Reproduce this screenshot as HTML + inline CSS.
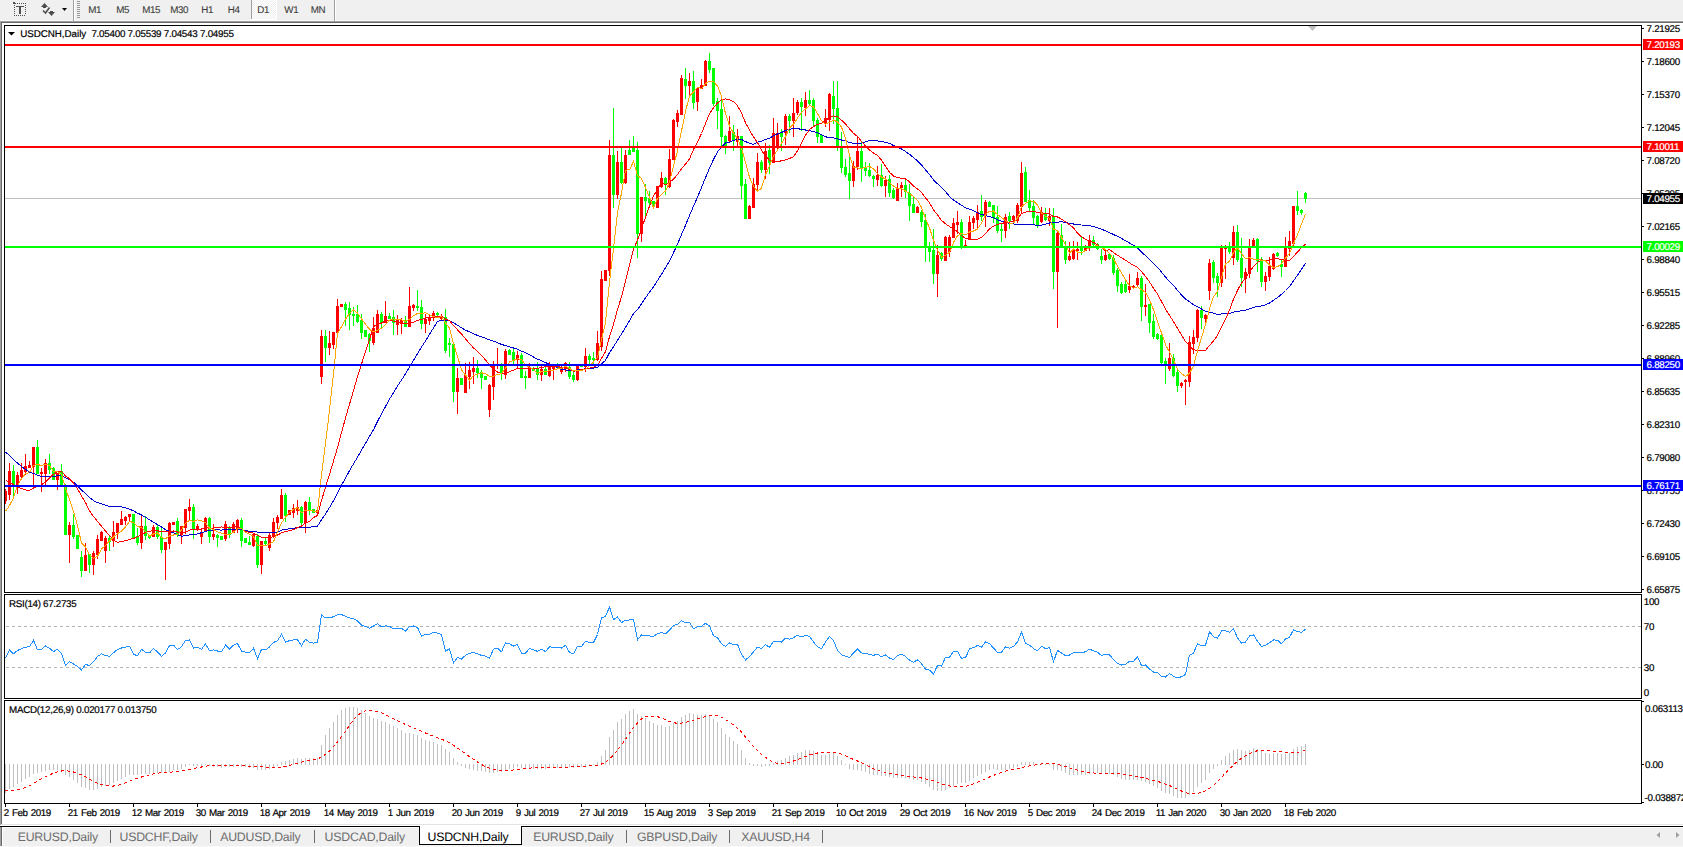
<!DOCTYPE html>
<html><head><meta charset="utf-8"><title>USDCNH,Daily</title>
<style>
html,body{margin:0;padding:0;background:#f0f0f0;}
body{width:1683px;height:847px;position:relative;overflow:hidden;font-family:"Liberation Sans",sans-serif;}
</style></head><body>
<svg width="1683" height="847" viewBox="0 0 1683 847" style="position:absolute;left:0;top:0" text-rendering="geometricPrecision" font-family="&quot;Liberation Sans&quot;, sans-serif">
<rect x="0" y="0" width="1683" height="847" fill="#f0f0f0"/>
<g shape-rendering="crispEdges">
<rect x="0" y="20" width="1683" height="1" fill="#f7f7f7"/>
<rect x="0" y="21" width="1683" height="1" fill="#a0a0a0"/>
<rect x="0" y="22" width="1683" height="1" fill="#696969"/>
<rect x="2" y="23" width="1681" height="801" fill="#ffffff"/>
<rect x="0" y="21" width="1" height="804" fill="#a0a0a0"/>
<rect x="1" y="22" width="1" height="802" fill="#696969"/>
<rect x="2" y="824" width="1681" height="1" fill="#e3e3e3"/>
<rect x="0" y="825" width="1683" height="1" fill="#ffffff"/>
<rect x="0" y="826" width="1683" height="1" fill="#000000"/>
<rect x="2" y="827" width="1681" height="1" fill="#ffffff"/>
<rect x="0" y="827" width="1" height="19" fill="#a0a0a0"/>
<rect x="1" y="827" width="1" height="19" fill="#696969"/>
<rect x="2" y="827" width="1" height="19" fill="#ffffff"/>
<rect x="0" y="846" width="1683" height="1" fill="#f8f8f8"/>
</g>
<g shape-rendering="crispEdges" fill="#505050">
<rect x="17" y="3" width="1" height="1"/>
<rect x="19" y="3" width="1" height="1"/>
<rect x="21" y="3" width="1" height="1"/>
<rect x="23" y="3" width="1" height="1"/>
<rect x="25" y="3" width="1" height="1"/>
<rect x="13" y="2" width="2" height="2"/><rect x="15" y="3" width="1" height="1"/>
<rect x="14" y="5" width="1" height="1"/>
<rect x="14" y="7" width="1" height="1"/>
<rect x="14" y="9" width="1" height="1"/>
<rect x="14" y="11" width="1" height="1"/>
<rect x="14" y="13" width="1" height="1"/>
<rect x="14" y="15" width="1" height="1"/>
<rect x="25" y="5" width="1" height="1"/>
<rect x="25" y="7" width="1" height="1"/>
<rect x="25" y="9" width="1" height="1"/>
<rect x="25" y="11" width="1" height="1"/>
<rect x="25" y="13" width="1" height="1"/>
<rect x="16" y="15" width="1" height="1"/>
<rect x="18" y="15" width="1" height="1"/>
<rect x="20" y="15" width="1" height="1"/>
<rect x="22" y="15" width="1" height="1"/>
<rect x="24" y="15" width="1" height="1"/>
<rect x="16" y="6" width="8" height="1"/><rect x="19" y="7" width="2" height="7"/>
</g>
<g fill="#4d4d4d">
<polygon points="44.5,3 41,7 48,7"/><rect x="43" y="7" width="3" height="1" shape-rendering="crispEdges"/>
<rect x="50" y="11" width="3" height="1" shape-rendering="crispEdges"/><polygon points="48,12 55,12 51.5,16"/>
</g>
<polyline points="43,10.5 45.5,13 49.5,7.5" fill="none" stroke="#4d4d4d" stroke-width="1.5"/>
<polygon points="62,8 67,8 64.5,11" fill="#000"/>
<g shape-rendering="crispEdges">
<rect x="73" y="0" width="1" height="21" fill="#a0a0a0"/><rect x="74" y="0" width="1" height="21" fill="#ffffff"/>
<rect x="77" y="1" width="3" height="1" fill="#9a9a9a"/>
<rect x="77" y="3" width="3" height="1" fill="#9a9a9a"/>
<rect x="77" y="5" width="3" height="1" fill="#9a9a9a"/>
<rect x="77" y="7" width="3" height="1" fill="#9a9a9a"/>
<rect x="77" y="9" width="3" height="1" fill="#9a9a9a"/>
<rect x="77" y="11" width="3" height="1" fill="#9a9a9a"/>
<rect x="77" y="13" width="3" height="1" fill="#9a9a9a"/>
<rect x="77" y="15" width="3" height="1" fill="#9a9a9a"/>
<rect x="77" y="17" width="3" height="1" fill="#9a9a9a"/>
<rect x="334" y="0" width="1" height="21" fill="#a0a0a0"/><rect x="335" y="0" width="1" height="21" fill="#ffffff"/>
<rect x="251" y="0" width="1" height="19" fill="#a0a0a0"/><rect x="252" y="0" width="24" height="19" fill="url(#chk)"/>
<rect x="251" y="19" width="26" height="1" fill="#ffffff"/><rect x="276" y="0" width="1" height="20" fill="#ffffff"/>
</g>
<text x="88.3" y="13" font-size="9.8" fill="#3c3c3c" stroke="#3c3c3c" stroke-width="0.1" letter-spacing="-0.4" >M1</text>
<text x="116.3" y="13" font-size="9.8" fill="#3c3c3c" stroke="#3c3c3c" stroke-width="0.1" letter-spacing="-0.4" >M5</text>
<text x="142.3" y="13" font-size="9.8" fill="#3c3c3c" stroke="#3c3c3c" stroke-width="0.1" letter-spacing="-0.4" >M15</text>
<text x="170.3" y="13" font-size="9.8" fill="#3c3c3c" stroke="#3c3c3c" stroke-width="0.1" letter-spacing="-0.4" >M30</text>
<text x="201.3" y="13" font-size="9.8" fill="#3c3c3c" stroke="#3c3c3c" stroke-width="0.1" letter-spacing="-0.4" >H1</text>
<text x="227.8" y="13" font-size="9.8" fill="#3c3c3c" stroke="#3c3c3c" stroke-width="0.1" letter-spacing="-0.4" >H4</text>
<text x="257.3" y="13" font-size="9.8" fill="#3c3c3c" stroke="#3c3c3c" stroke-width="0.1" letter-spacing="-0.4" >D1</text>
<text x="284.3" y="13" font-size="9.8" fill="#3c3c3c" stroke="#3c3c3c" stroke-width="0.1" letter-spacing="-0.4" >W1</text>
<text x="310.8" y="13" font-size="9.8" fill="#3c3c3c" stroke="#3c3c3c" stroke-width="0.1" letter-spacing="-0.4" >MN</text>
<g shape-rendering="crispEdges" fill="#000">
<rect x="4" y="25" width="1638" height="1"/>
<rect x="4" y="592" width="1638" height="1"/>
<rect x="4" y="25" width="1" height="568"/>
<rect x="1641" y="25" width="1" height="568"/>
<rect x="4" y="594" width="1638" height="1"/>
<rect x="4" y="698" width="1638" height="1"/>
<rect x="4" y="594" width="1" height="105"/>
<rect x="1641" y="594" width="1" height="105"/>
<rect x="4" y="700" width="1638" height="1"/>
<rect x="4" y="803" width="1638" height="1"/>
<rect x="4" y="700" width="1" height="104"/>
<rect x="1641" y="700" width="1" height="104"/>
<rect x="1642" y="28" width="2" height="1"/>
<rect x="1642" y="61" width="2" height="1"/>
<rect x="1642" y="94" width="2" height="1"/>
<rect x="1642" y="127" width="2" height="1"/>
<rect x="1642" y="160" width="2" height="1"/>
<rect x="1642" y="193" width="2" height="1"/>
<rect x="1642" y="226" width="2" height="1"/>
<rect x="1642" y="259" width="2" height="1"/>
<rect x="1642" y="292" width="2" height="1"/>
<rect x="1642" y="325" width="2" height="1"/>
<rect x="1642" y="358" width="2" height="1"/>
<rect x="1642" y="391" width="2" height="1"/>
<rect x="1642" y="424" width="2" height="1"/>
<rect x="1642" y="457" width="2" height="1"/>
<rect x="1642" y="490" width="2" height="1"/>
<rect x="1642" y="523" width="2" height="1"/>
<rect x="1642" y="556" width="2" height="1"/>
<rect x="1642" y="589" width="2" height="1"/>
<rect x="5" y="804" width="1" height="3"/>
<rect x="69" y="804" width="1" height="3"/>
<rect x="133" y="804" width="1" height="3"/>
<rect x="197" y="804" width="1" height="3"/>
<rect x="261" y="804" width="1" height="3"/>
<rect x="325" y="804" width="1" height="3"/>
<rect x="389" y="804" width="1" height="3"/>
<rect x="453" y="804" width="1" height="3"/>
<rect x="517" y="804" width="1" height="3"/>
<rect x="581" y="804" width="1" height="3"/>
<rect x="645" y="804" width="1" height="3"/>
<rect x="709" y="804" width="1" height="3"/>
<rect x="773" y="804" width="1" height="3"/>
<rect x="837" y="804" width="1" height="3"/>
<rect x="901" y="804" width="1" height="3"/>
<rect x="965" y="804" width="1" height="3"/>
<rect x="1029" y="804" width="1" height="3"/>
<rect x="1093" y="804" width="1" height="3"/>
<rect x="1157" y="804" width="1" height="3"/>
<rect x="1221" y="804" width="1" height="3"/>
<rect x="1285" y="804" width="1" height="3"/>
<rect x="1642" y="701" width="2" height="1"/>
<rect x="1642" y="764" width="2" height="1"/>
<rect x="1642" y="802" width="2" height="1"/>
</g>
<polygon points="1308,26 1317,26 1312.5,31" fill="#c0c0c0"/>
<text x="1646.6" y="32" font-size="9.8" fill="#000" stroke="#000" stroke-width="0.2" letter-spacing="-0.3" >7.21925</text>
<text x="1646.6" y="65" font-size="9.8" fill="#000" stroke="#000" stroke-width="0.2" letter-spacing="-0.3" >7.18600</text>
<text x="1646.6" y="98" font-size="9.8" fill="#000" stroke="#000" stroke-width="0.2" letter-spacing="-0.3" >7.15370</text>
<text x="1646.6" y="131" font-size="9.8" fill="#000" stroke="#000" stroke-width="0.2" letter-spacing="-0.3" >7.12045</text>
<text x="1646.6" y="164" font-size="9.8" fill="#000" stroke="#000" stroke-width="0.2" letter-spacing="-0.3" >7.08720</text>
<text x="1646.6" y="197" font-size="9.8" fill="#000" stroke="#000" stroke-width="0.2" letter-spacing="-0.3" >7.05395</text>
<text x="1646.6" y="230" font-size="9.8" fill="#000" stroke="#000" stroke-width="0.2" letter-spacing="-0.3" >7.02165</text>
<text x="1646.6" y="263" font-size="9.8" fill="#000" stroke="#000" stroke-width="0.2" letter-spacing="-0.3" >6.98840</text>
<text x="1646.6" y="296" font-size="9.8" fill="#000" stroke="#000" stroke-width="0.2" letter-spacing="-0.3" >6.95515</text>
<text x="1646.6" y="329" font-size="9.8" fill="#000" stroke="#000" stroke-width="0.2" letter-spacing="-0.3" >6.92285</text>
<text x="1646.6" y="362" font-size="9.8" fill="#000" stroke="#000" stroke-width="0.2" letter-spacing="-0.3" >6.88960</text>
<text x="1646.6" y="395" font-size="9.8" fill="#000" stroke="#000" stroke-width="0.2" letter-spacing="-0.3" >6.85635</text>
<text x="1646.6" y="428" font-size="9.8" fill="#000" stroke="#000" stroke-width="0.2" letter-spacing="-0.3" >6.82310</text>
<text x="1646.6" y="461" font-size="9.8" fill="#000" stroke="#000" stroke-width="0.2" letter-spacing="-0.3" >6.79080</text>
<text x="1646.6" y="494" font-size="9.8" fill="#000" stroke="#000" stroke-width="0.2" letter-spacing="-0.3" >6.75755</text>
<text x="1646.6" y="527" font-size="9.8" fill="#000" stroke="#000" stroke-width="0.2" letter-spacing="-0.3" >6.72430</text>
<text x="1646.6" y="560" font-size="9.8" fill="#000" stroke="#000" stroke-width="0.2" letter-spacing="-0.3" >6.69105</text>
<text x="1646.6" y="593" font-size="9.8" fill="#000" stroke="#000" stroke-width="0.2" letter-spacing="-0.3" >6.65875</text>
<rect x="5" y="198" width="1636" height="1" fill="#c0c0c0" shape-rendering="crispEdges"/>
<g shape-rendering="crispEdges">
<rect x="5" y="489" width="1" height="15" fill="#ff0000"/>
<rect x="5" y="491" width="2" height="10" fill="#ff0000"/>
<rect x="9" y="463" width="1" height="37" fill="#ff0000"/>
<rect x="8" y="471" width="3" height="24" fill="#ff0000"/>
<rect x="13" y="465" width="1" height="32" fill="#00ff00"/>
<rect x="12" y="471" width="3" height="14" fill="#00ff00"/>
<rect x="17" y="472" width="1" height="22" fill="#ff0000"/>
<rect x="16" y="475" width="3" height="11" fill="#ff0000"/>
<rect x="21" y="463" width="1" height="17" fill="#ff0000"/>
<rect x="20" y="470" width="3" height="7" fill="#ff0000"/>
<rect x="25" y="454" width="1" height="21" fill="#ff0000"/>
<rect x="24" y="466" width="3" height="6" fill="#ff0000"/>
<rect x="29" y="461" width="1" height="7" fill="#ff0000"/>
<rect x="28" y="465" width="3" height="3" fill="#ff0000"/>
<rect x="33" y="447" width="1" height="38" fill="#ff0000"/>
<rect x="32" y="447" width="3" height="20" fill="#ff0000"/>
<rect x="37" y="440" width="1" height="34" fill="#00ff00"/>
<rect x="36" y="447" width="3" height="27" fill="#00ff00"/>
<rect x="41" y="468" width="1" height="24" fill="#ff0000"/>
<rect x="40" y="472" width="3" height="2" fill="#ff0000"/>
<rect x="45" y="459" width="1" height="27" fill="#ff0000"/>
<rect x="44" y="463" width="3" height="11" fill="#ff0000"/>
<rect x="49" y="454" width="1" height="20" fill="#00ff00"/>
<rect x="48" y="463" width="3" height="7" fill="#00ff00"/>
<rect x="53" y="467" width="1" height="13" fill="#00ff00"/>
<rect x="52" y="468" width="3" height="12" fill="#00ff00"/>
<rect x="57" y="473" width="1" height="17" fill="#ff0000"/>
<rect x="56" y="473" width="3" height="7" fill="#ff0000"/>
<rect x="61" y="464" width="1" height="23" fill="#00ff00"/>
<rect x="60" y="471" width="3" height="15" fill="#00ff00"/>
<rect x="65" y="484" width="1" height="51" fill="#00ff00"/>
<rect x="64" y="485" width="3" height="50" fill="#00ff00"/>
<rect x="69" y="522" width="1" height="41" fill="#ff0000"/>
<rect x="68" y="525" width="3" height="10" fill="#ff0000"/>
<rect x="73" y="514" width="1" height="25" fill="#00ff00"/>
<rect x="72" y="525" width="3" height="12" fill="#00ff00"/>
<rect x="77" y="535" width="1" height="14" fill="#00ff00"/>
<rect x="76" y="535" width="3" height="14" fill="#00ff00"/>
<rect x="81" y="551" width="1" height="26" fill="#00ff00"/>
<rect x="80" y="557" width="3" height="14" fill="#00ff00"/>
<rect x="85" y="543" width="1" height="28" fill="#ff0000"/>
<rect x="84" y="555" width="3" height="16" fill="#ff0000"/>
<rect x="89" y="554" width="1" height="19" fill="#00ff00"/>
<rect x="88" y="554" width="3" height="11" fill="#00ff00"/>
<rect x="93" y="551" width="1" height="24" fill="#ff0000"/>
<rect x="92" y="553" width="3" height="12" fill="#ff0000"/>
<rect x="97" y="535" width="1" height="24" fill="#ff0000"/>
<rect x="96" y="539" width="3" height="16" fill="#ff0000"/>
<rect x="101" y="531" width="1" height="10" fill="#ff0000"/>
<rect x="100" y="532" width="3" height="9" fill="#ff0000"/>
<rect x="105" y="536" width="1" height="27" fill="#ff0000"/>
<rect x="104" y="538" width="3" height="13" fill="#ff0000"/>
<rect x="109" y="536" width="1" height="15" fill="#00ff00"/>
<rect x="108" y="538" width="3" height="4" fill="#00ff00"/>
<rect x="113" y="521" width="1" height="26" fill="#ff0000"/>
<rect x="112" y="532" width="3" height="9" fill="#ff0000"/>
<rect x="117" y="523" width="1" height="16" fill="#ff0000"/>
<rect x="116" y="523" width="3" height="10" fill="#ff0000"/>
<rect x="121" y="511" width="1" height="14" fill="#ff0000"/>
<rect x="120" y="519" width="3" height="6" fill="#ff0000"/>
<rect x="125" y="516" width="1" height="9" fill="#ff0000"/>
<rect x="124" y="517" width="3" height="4" fill="#ff0000"/>
<rect x="129" y="514" width="1" height="8" fill="#ff0000"/>
<rect x="128" y="514" width="3" height="3" fill="#ff0000"/>
<rect x="133" y="514" width="1" height="24" fill="#00ff00"/>
<rect x="132" y="514" width="3" height="24" fill="#00ff00"/>
<rect x="137" y="528" width="1" height="17" fill="#00ff00"/>
<rect x="136" y="536" width="3" height="7" fill="#00ff00"/>
<rect x="141" y="515" width="1" height="34" fill="#ff0000"/>
<rect x="140" y="526" width="3" height="17" fill="#ff0000"/>
<rect x="145" y="516" width="1" height="24" fill="#00ff00"/>
<rect x="144" y="526" width="3" height="10" fill="#00ff00"/>
<rect x="149" y="535" width="1" height="4" fill="#00ff00"/>
<rect x="148" y="535" width="3" height="3" fill="#00ff00"/>
<rect x="153" y="525" width="1" height="12" fill="#ff0000"/>
<rect x="152" y="527" width="3" height="10" fill="#ff0000"/>
<rect x="157" y="525" width="1" height="14" fill="#00ff00"/>
<rect x="156" y="527" width="3" height="10" fill="#00ff00"/>
<rect x="161" y="527" width="1" height="26" fill="#00ff00"/>
<rect x="160" y="537" width="3" height="13" fill="#00ff00"/>
<rect x="165" y="542" width="1" height="38" fill="#ff0000"/>
<rect x="164" y="542" width="3" height="8" fill="#ff0000"/>
<rect x="169" y="522" width="1" height="27" fill="#ff0000"/>
<rect x="168" y="523" width="3" height="21" fill="#ff0000"/>
<rect x="173" y="522" width="1" height="3" fill="#ff0000"/>
<rect x="172" y="522" width="3" height="3" fill="#ff0000"/>
<rect x="177" y="518" width="1" height="19" fill="#00ff00"/>
<rect x="176" y="521" width="3" height="14" fill="#00ff00"/>
<rect x="181" y="526" width="1" height="18" fill="#ff0000"/>
<rect x="180" y="526" width="3" height="9" fill="#ff0000"/>
<rect x="185" y="509" width="1" height="25" fill="#ff0000"/>
<rect x="184" y="509" width="3" height="19" fill="#ff0000"/>
<rect x="189" y="499" width="1" height="21" fill="#ff0000"/>
<rect x="188" y="507" width="3" height="4" fill="#ff0000"/>
<rect x="193" y="504" width="1" height="35" fill="#00ff00"/>
<rect x="192" y="507" width="3" height="22" fill="#00ff00"/>
<rect x="197" y="524" width="1" height="7" fill="#ff0000"/>
<rect x="196" y="526" width="3" height="4" fill="#ff0000"/>
<rect x="201" y="528" width="1" height="16" fill="#ff0000"/>
<rect x="200" y="532" width="3" height="5" fill="#ff0000"/>
<rect x="205" y="517" width="1" height="15" fill="#ff0000"/>
<rect x="204" y="518" width="3" height="13" fill="#ff0000"/>
<rect x="209" y="517" width="1" height="26" fill="#00ff00"/>
<rect x="208" y="518" width="3" height="19" fill="#00ff00"/>
<rect x="213" y="524" width="1" height="16" fill="#ff0000"/>
<rect x="212" y="534" width="3" height="3" fill="#ff0000"/>
<rect x="217" y="534" width="1" height="13" fill="#00ff00"/>
<rect x="216" y="535" width="3" height="3" fill="#00ff00"/>
<rect x="221" y="536" width="1" height="4" fill="#00ff00"/>
<rect x="220" y="536" width="3" height="4" fill="#00ff00"/>
<rect x="225" y="521" width="1" height="20" fill="#ff0000"/>
<rect x="224" y="524" width="3" height="15" fill="#ff0000"/>
<rect x="229" y="526" width="1" height="12" fill="#00ff00"/>
<rect x="228" y="528" width="3" height="7" fill="#00ff00"/>
<rect x="233" y="522" width="1" height="11" fill="#ff0000"/>
<rect x="232" y="524" width="3" height="9" fill="#ff0000"/>
<rect x="237" y="519" width="1" height="14" fill="#ff0000"/>
<rect x="236" y="520" width="3" height="10" fill="#ff0000"/>
<rect x="241" y="518" width="1" height="29" fill="#00ff00"/>
<rect x="240" y="520" width="3" height="21" fill="#00ff00"/>
<rect x="245" y="538" width="1" height="5" fill="#00ff00"/>
<rect x="244" y="538" width="3" height="5" fill="#00ff00"/>
<rect x="249" y="536" width="1" height="9" fill="#00ff00"/>
<rect x="248" y="542" width="3" height="3" fill="#00ff00"/>
<rect x="253" y="533" width="1" height="14" fill="#ff0000"/>
<rect x="252" y="534" width="3" height="12" fill="#ff0000"/>
<rect x="257" y="534" width="1" height="34" fill="#00ff00"/>
<rect x="256" y="536" width="3" height="29" fill="#00ff00"/>
<rect x="261" y="541" width="1" height="33" fill="#ff0000"/>
<rect x="260" y="541" width="3" height="24" fill="#ff0000"/>
<rect x="265" y="538" width="1" height="7" fill="#00ff00"/>
<rect x="264" y="541" width="3" height="3" fill="#00ff00"/>
<rect x="269" y="532" width="1" height="19" fill="#ff0000"/>
<rect x="268" y="535" width="3" height="13" fill="#ff0000"/>
<rect x="273" y="518" width="1" height="20" fill="#ff0000"/>
<rect x="272" y="522" width="3" height="15" fill="#ff0000"/>
<rect x="277" y="515" width="1" height="14" fill="#ff0000"/>
<rect x="276" y="517" width="3" height="6" fill="#ff0000"/>
<rect x="281" y="489" width="1" height="30" fill="#ff0000"/>
<rect x="280" y="495" width="3" height="24" fill="#ff0000"/>
<rect x="285" y="493" width="1" height="29" fill="#00ff00"/>
<rect x="284" y="495" width="3" height="21" fill="#00ff00"/>
<rect x="289" y="510" width="1" height="5" fill="#ff0000"/>
<rect x="288" y="510" width="3" height="5" fill="#ff0000"/>
<rect x="293" y="504" width="1" height="14" fill="#ff0000"/>
<rect x="292" y="508" width="3" height="5" fill="#ff0000"/>
<rect x="297" y="500" width="1" height="15" fill="#ff0000"/>
<rect x="296" y="507" width="3" height="4" fill="#ff0000"/>
<rect x="301" y="506" width="1" height="20" fill="#00ff00"/>
<rect x="300" y="507" width="3" height="16" fill="#00ff00"/>
<rect x="305" y="501" width="1" height="32" fill="#ff0000"/>
<rect x="304" y="502" width="3" height="21" fill="#ff0000"/>
<rect x="309" y="497" width="1" height="18" fill="#00ff00"/>
<rect x="308" y="502" width="3" height="9" fill="#00ff00"/>
<rect x="313" y="509" width="1" height="4" fill="#00ff00"/>
<rect x="312" y="509" width="3" height="4" fill="#00ff00"/>
<rect x="317" y="510" width="1" height="3" fill="#ff0000"/>
<rect x="316" y="510" width="3" height="3" fill="#ff0000"/>
<rect x="321" y="330" width="1" height="54" fill="#ff0000"/>
<rect x="320" y="336" width="3" height="41" fill="#ff0000"/>
<rect x="325" y="330" width="1" height="32" fill="#00ff00"/>
<rect x="324" y="336" width="3" height="12" fill="#00ff00"/>
<rect x="329" y="331" width="1" height="24" fill="#ff0000"/>
<rect x="328" y="343" width="3" height="5" fill="#ff0000"/>
<rect x="333" y="332" width="1" height="17" fill="#ff0000"/>
<rect x="332" y="332" width="3" height="13" fill="#ff0000"/>
<rect x="337" y="299" width="1" height="34" fill="#ff0000"/>
<rect x="336" y="306" width="3" height="27" fill="#ff0000"/>
<rect x="341" y="304" width="1" height="3" fill="#ff0000"/>
<rect x="340" y="304" width="3" height="3" fill="#ff0000"/>
<rect x="345" y="302" width="1" height="24" fill="#00ff00"/>
<rect x="344" y="304" width="3" height="6" fill="#00ff00"/>
<rect x="349" y="302" width="1" height="28" fill="#00ff00"/>
<rect x="348" y="308" width="3" height="7" fill="#00ff00"/>
<rect x="353" y="307" width="1" height="19" fill="#00ff00"/>
<rect x="352" y="314" width="3" height="2" fill="#00ff00"/>
<rect x="357" y="305" width="1" height="18" fill="#00ff00"/>
<rect x="356" y="314" width="3" height="8" fill="#00ff00"/>
<rect x="361" y="314" width="1" height="25" fill="#00ff00"/>
<rect x="360" y="320" width="3" height="13" fill="#00ff00"/>
<rect x="365" y="330" width="1" height="7" fill="#00ff00"/>
<rect x="364" y="330" width="3" height="7" fill="#00ff00"/>
<rect x="369" y="333" width="1" height="19" fill="#00ff00"/>
<rect x="368" y="334" width="3" height="7" fill="#00ff00"/>
<rect x="373" y="317" width="1" height="28" fill="#ff0000"/>
<rect x="372" y="328" width="3" height="15" fill="#ff0000"/>
<rect x="377" y="310" width="1" height="23" fill="#ff0000"/>
<rect x="376" y="314" width="3" height="19" fill="#ff0000"/>
<rect x="381" y="312" width="1" height="17" fill="#00ff00"/>
<rect x="380" y="314" width="3" height="9" fill="#00ff00"/>
<rect x="385" y="301" width="1" height="22" fill="#ff0000"/>
<rect x="384" y="316" width="3" height="7" fill="#ff0000"/>
<rect x="389" y="313" width="1" height="6" fill="#00ff00"/>
<rect x="388" y="316" width="3" height="3" fill="#00ff00"/>
<rect x="393" y="310" width="1" height="25" fill="#00ff00"/>
<rect x="392" y="317" width="3" height="6" fill="#00ff00"/>
<rect x="397" y="315" width="1" height="20" fill="#ff0000"/>
<rect x="396" y="320" width="3" height="5" fill="#ff0000"/>
<rect x="401" y="318" width="1" height="16" fill="#ff0000"/>
<rect x="400" y="320" width="3" height="4" fill="#ff0000"/>
<rect x="405" y="316" width="1" height="11" fill="#00ff00"/>
<rect x="404" y="320" width="3" height="7" fill="#00ff00"/>
<rect x="409" y="287" width="1" height="40" fill="#ff0000"/>
<rect x="408" y="306" width="3" height="21" fill="#ff0000"/>
<rect x="413" y="304" width="1" height="7" fill="#ff0000"/>
<rect x="412" y="305" width="3" height="3" fill="#ff0000"/>
<rect x="417" y="290" width="1" height="21" fill="#00ff00"/>
<rect x="416" y="306" width="3" height="2" fill="#00ff00"/>
<rect x="421" y="300" width="1" height="29" fill="#00ff00"/>
<rect x="420" y="307" width="3" height="17" fill="#00ff00"/>
<rect x="425" y="314" width="1" height="19" fill="#ff0000"/>
<rect x="424" y="319" width="3" height="5" fill="#ff0000"/>
<rect x="429" y="315" width="1" height="10" fill="#ff0000"/>
<rect x="428" y="318" width="3" height="3" fill="#ff0000"/>
<rect x="433" y="311" width="1" height="10" fill="#ff0000"/>
<rect x="432" y="313" width="3" height="4" fill="#ff0000"/>
<rect x="437" y="312" width="1" height="4" fill="#00ff00"/>
<rect x="436" y="313" width="3" height="2" fill="#00ff00"/>
<rect x="441" y="314" width="1" height="6" fill="#ff0000"/>
<rect x="440" y="316" width="3" height="3" fill="#ff0000"/>
<rect x="445" y="309" width="1" height="44" fill="#00ff00"/>
<rect x="444" y="317" width="3" height="34" fill="#00ff00"/>
<rect x="449" y="338" width="1" height="19" fill="#00ff00"/>
<rect x="448" y="343" width="3" height="2" fill="#00ff00"/>
<rect x="453" y="343" width="1" height="59" fill="#00ff00"/>
<rect x="452" y="344" width="3" height="48" fill="#00ff00"/>
<rect x="457" y="368" width="1" height="46" fill="#ff0000"/>
<rect x="456" y="378" width="3" height="14" fill="#ff0000"/>
<rect x="461" y="378" width="1" height="7" fill="#00ff00"/>
<rect x="460" y="378" width="3" height="7" fill="#00ff00"/>
<rect x="465" y="363" width="1" height="30" fill="#ff0000"/>
<rect x="464" y="375" width="3" height="18" fill="#ff0000"/>
<rect x="469" y="362" width="1" height="27" fill="#ff0000"/>
<rect x="468" y="370" width="3" height="7" fill="#ff0000"/>
<rect x="473" y="357" width="1" height="27" fill="#ff0000"/>
<rect x="472" y="368" width="3" height="4" fill="#ff0000"/>
<rect x="477" y="360" width="1" height="18" fill="#00ff00"/>
<rect x="476" y="368" width="3" height="5" fill="#00ff00"/>
<rect x="481" y="370" width="1" height="19" fill="#00ff00"/>
<rect x="480" y="372" width="3" height="6" fill="#00ff00"/>
<rect x="485" y="376" width="1" height="4" fill="#00ff00"/>
<rect x="484" y="376" width="3" height="4" fill="#00ff00"/>
<rect x="489" y="384" width="1" height="33" fill="#ff0000"/>
<rect x="488" y="385" width="3" height="25" fill="#ff0000"/>
<rect x="493" y="361" width="1" height="39" fill="#ff0000"/>
<rect x="492" y="366" width="3" height="21" fill="#ff0000"/>
<rect x="497" y="348" width="1" height="21" fill="#ff0000"/>
<rect x="496" y="364" width="3" height="2" fill="#ff0000"/>
<rect x="501" y="363" width="1" height="17" fill="#00ff00"/>
<rect x="500" y="364" width="3" height="10" fill="#00ff00"/>
<rect x="505" y="349" width="1" height="30" fill="#ff0000"/>
<rect x="504" y="351" width="3" height="24" fill="#ff0000"/>
<rect x="509" y="349" width="1" height="6" fill="#00ff00"/>
<rect x="508" y="350" width="3" height="5" fill="#00ff00"/>
<rect x="513" y="349" width="1" height="16" fill="#00ff00"/>
<rect x="512" y="352" width="3" height="8" fill="#00ff00"/>
<rect x="517" y="351" width="1" height="17" fill="#ff0000"/>
<rect x="516" y="355" width="3" height="5" fill="#ff0000"/>
<rect x="521" y="353" width="1" height="25" fill="#00ff00"/>
<rect x="520" y="355" width="3" height="23" fill="#00ff00"/>
<rect x="525" y="371" width="1" height="18" fill="#00ff00"/>
<rect x="524" y="376" width="3" height="2" fill="#00ff00"/>
<rect x="529" y="363" width="1" height="15" fill="#ff0000"/>
<rect x="528" y="367" width="3" height="11" fill="#ff0000"/>
<rect x="533" y="367" width="1" height="4" fill="#00ff00"/>
<rect x="532" y="368" width="3" height="3" fill="#00ff00"/>
<rect x="537" y="362" width="1" height="18" fill="#00ff00"/>
<rect x="536" y="368" width="3" height="7" fill="#00ff00"/>
<rect x="541" y="366" width="1" height="15" fill="#ff0000"/>
<rect x="540" y="369" width="3" height="6" fill="#ff0000"/>
<rect x="545" y="367" width="1" height="8" fill="#00ff00"/>
<rect x="544" y="369" width="3" height="6" fill="#00ff00"/>
<rect x="549" y="362" width="1" height="15" fill="#ff0000"/>
<rect x="548" y="365" width="3" height="11" fill="#ff0000"/>
<rect x="553" y="366" width="1" height="14" fill="#ff0000"/>
<rect x="552" y="366" width="3" height="3" fill="#ff0000"/>
<rect x="557" y="363" width="1" height="6" fill="#00ff00"/>
<rect x="556" y="365" width="3" height="3" fill="#00ff00"/>
<rect x="561" y="366" width="1" height="8" fill="#ff0000"/>
<rect x="560" y="368" width="3" height="4" fill="#ff0000"/>
<rect x="565" y="362" width="1" height="10" fill="#ff0000"/>
<rect x="564" y="363" width="3" height="6" fill="#ff0000"/>
<rect x="569" y="362" width="1" height="17" fill="#00ff00"/>
<rect x="568" y="367" width="3" height="10" fill="#00ff00"/>
<rect x="573" y="371" width="1" height="11" fill="#00ff00"/>
<rect x="572" y="375" width="3" height="5" fill="#00ff00"/>
<rect x="577" y="366" width="1" height="15" fill="#ff0000"/>
<rect x="576" y="366" width="3" height="14" fill="#ff0000"/>
<rect x="581" y="365" width="1" height="2" fill="#00ff00"/>
<rect x="580" y="365" width="3" height="2" fill="#00ff00"/>
<rect x="585" y="348" width="1" height="24" fill="#ff0000"/>
<rect x="584" y="356" width="3" height="11" fill="#ff0000"/>
<rect x="589" y="354" width="1" height="11" fill="#00ff00"/>
<rect x="588" y="356" width="3" height="4" fill="#00ff00"/>
<rect x="593" y="352" width="1" height="13" fill="#00ff00"/>
<rect x="592" y="358" width="3" height="2" fill="#00ff00"/>
<rect x="597" y="331" width="1" height="30" fill="#ff0000"/>
<rect x="596" y="343" width="3" height="17" fill="#ff0000"/>
<rect x="601" y="271" width="1" height="80" fill="#ff0000"/>
<rect x="600" y="279" width="3" height="68" fill="#ff0000"/>
<rect x="605" y="270" width="1" height="11" fill="#ff0000"/>
<rect x="604" y="270" width="3" height="11" fill="#ff0000"/>
<rect x="609" y="140" width="1" height="136" fill="#ff0000"/>
<rect x="608" y="155" width="3" height="116" fill="#ff0000"/>
<rect x="613" y="108" width="1" height="100" fill="#00ff00"/>
<rect x="612" y="155" width="3" height="40" fill="#00ff00"/>
<rect x="617" y="151" width="1" height="48" fill="#ff0000"/>
<rect x="616" y="162" width="3" height="33" fill="#ff0000"/>
<rect x="621" y="148" width="1" height="36" fill="#00ff00"/>
<rect x="620" y="162" width="3" height="21" fill="#00ff00"/>
<rect x="625" y="150" width="1" height="34" fill="#ff0000"/>
<rect x="624" y="155" width="3" height="28" fill="#ff0000"/>
<rect x="629" y="140" width="1" height="15" fill="#00ff00"/>
<rect x="628" y="150" width="3" height="5" fill="#00ff00"/>
<rect x="633" y="136" width="1" height="16" fill="#00ff00"/>
<rect x="632" y="148" width="3" height="4" fill="#00ff00"/>
<rect x="637" y="142" width="1" height="116" fill="#00ff00"/>
<rect x="636" y="150" width="3" height="84" fill="#00ff00"/>
<rect x="641" y="197" width="1" height="45" fill="#ff0000"/>
<rect x="640" y="197" width="3" height="37" fill="#ff0000"/>
<rect x="645" y="184" width="1" height="32" fill="#00ff00"/>
<rect x="644" y="197" width="3" height="4" fill="#00ff00"/>
<rect x="649" y="191" width="1" height="14" fill="#00ff00"/>
<rect x="648" y="198" width="3" height="5" fill="#00ff00"/>
<rect x="653" y="201" width="1" height="5" fill="#00ff00"/>
<rect x="652" y="201" width="3" height="4" fill="#00ff00"/>
<rect x="657" y="186" width="1" height="22" fill="#ff0000"/>
<rect x="656" y="186" width="3" height="22" fill="#ff0000"/>
<rect x="661" y="172" width="1" height="16" fill="#ff0000"/>
<rect x="660" y="178" width="3" height="9" fill="#ff0000"/>
<rect x="665" y="177" width="1" height="18" fill="#00ff00"/>
<rect x="664" y="178" width="3" height="6" fill="#00ff00"/>
<rect x="669" y="149" width="1" height="39" fill="#ff0000"/>
<rect x="668" y="159" width="3" height="28" fill="#ff0000"/>
<rect x="673" y="119" width="1" height="41" fill="#ff0000"/>
<rect x="672" y="120" width="3" height="40" fill="#ff0000"/>
<rect x="677" y="110" width="1" height="17" fill="#ff0000"/>
<rect x="676" y="113" width="3" height="9" fill="#ff0000"/>
<rect x="681" y="75" width="1" height="40" fill="#ff0000"/>
<rect x="680" y="78" width="3" height="37" fill="#ff0000"/>
<rect x="685" y="68" width="1" height="31" fill="#00ff00"/>
<rect x="684" y="79" width="3" height="7" fill="#00ff00"/>
<rect x="689" y="73" width="1" height="22" fill="#ff0000"/>
<rect x="688" y="81" width="3" height="5" fill="#ff0000"/>
<rect x="693" y="71" width="1" height="38" fill="#00ff00"/>
<rect x="692" y="81" width="3" height="22" fill="#00ff00"/>
<rect x="697" y="87" width="1" height="24" fill="#ff0000"/>
<rect x="696" y="88" width="3" height="14" fill="#ff0000"/>
<rect x="701" y="79" width="1" height="10" fill="#ff0000"/>
<rect x="700" y="85" width="3" height="4" fill="#ff0000"/>
<rect x="705" y="60" width="1" height="26" fill="#ff0000"/>
<rect x="704" y="61" width="3" height="25" fill="#ff0000"/>
<rect x="709" y="53" width="1" height="20" fill="#00ff00"/>
<rect x="708" y="61" width="3" height="9" fill="#00ff00"/>
<rect x="713" y="68" width="1" height="38" fill="#00ff00"/>
<rect x="712" y="68" width="3" height="36" fill="#00ff00"/>
<rect x="717" y="98" width="1" height="31" fill="#00ff00"/>
<rect x="716" y="101" width="3" height="10" fill="#00ff00"/>
<rect x="721" y="95" width="1" height="52" fill="#00ff00"/>
<rect x="720" y="109" width="3" height="28" fill="#00ff00"/>
<rect x="725" y="135" width="1" height="19" fill="#00ff00"/>
<rect x="724" y="136" width="3" height="12" fill="#00ff00"/>
<rect x="729" y="116" width="1" height="26" fill="#ff0000"/>
<rect x="728" y="131" width="3" height="10" fill="#ff0000"/>
<rect x="733" y="125" width="1" height="26" fill="#00ff00"/>
<rect x="732" y="132" width="3" height="9" fill="#00ff00"/>
<rect x="737" y="129" width="1" height="18" fill="#ff0000"/>
<rect x="736" y="136" width="3" height="6" fill="#ff0000"/>
<rect x="741" y="136" width="1" height="63" fill="#00ff00"/>
<rect x="740" y="136" width="3" height="50" fill="#00ff00"/>
<rect x="745" y="179" width="1" height="40" fill="#00ff00"/>
<rect x="744" y="184" width="3" height="35" fill="#00ff00"/>
<rect x="749" y="205" width="1" height="14" fill="#ff0000"/>
<rect x="748" y="206" width="3" height="13" fill="#ff0000"/>
<rect x="753" y="178" width="1" height="30" fill="#ff0000"/>
<rect x="752" y="184" width="3" height="24" fill="#ff0000"/>
<rect x="757" y="153" width="1" height="37" fill="#ff0000"/>
<rect x="756" y="162" width="3" height="23" fill="#ff0000"/>
<rect x="761" y="160" width="1" height="13" fill="#00ff00"/>
<rect x="760" y="162" width="3" height="8" fill="#00ff00"/>
<rect x="765" y="143" width="1" height="36" fill="#ff0000"/>
<rect x="764" y="151" width="3" height="19" fill="#ff0000"/>
<rect x="769" y="145" width="1" height="29" fill="#00ff00"/>
<rect x="768" y="150" width="3" height="13" fill="#00ff00"/>
<rect x="773" y="118" width="1" height="45" fill="#ff0000"/>
<rect x="772" y="133" width="3" height="30" fill="#ff0000"/>
<rect x="777" y="123" width="1" height="26" fill="#ff0000"/>
<rect x="776" y="133" width="3" height="14" fill="#ff0000"/>
<rect x="781" y="129" width="1" height="22" fill="#00ff00"/>
<rect x="780" y="133" width="3" height="4" fill="#00ff00"/>
<rect x="785" y="114" width="1" height="31" fill="#ff0000"/>
<rect x="784" y="116" width="3" height="17" fill="#ff0000"/>
<rect x="789" y="114" width="1" height="19" fill="#00ff00"/>
<rect x="788" y="116" width="3" height="5" fill="#00ff00"/>
<rect x="793" y="98" width="1" height="39" fill="#ff0000"/>
<rect x="792" y="113" width="3" height="8" fill="#ff0000"/>
<rect x="797" y="100" width="1" height="15" fill="#ff0000"/>
<rect x="796" y="102" width="3" height="11" fill="#ff0000"/>
<rect x="801" y="98" width="1" height="33" fill="#00ff00"/>
<rect x="800" y="102" width="3" height="5" fill="#00ff00"/>
<rect x="805" y="92" width="1" height="24" fill="#ff0000"/>
<rect x="804" y="100" width="3" height="8" fill="#ff0000"/>
<rect x="809" y="90" width="1" height="16" fill="#00ff00"/>
<rect x="808" y="100" width="3" height="4" fill="#00ff00"/>
<rect x="813" y="98" width="1" height="28" fill="#00ff00"/>
<rect x="812" y="100" width="3" height="21" fill="#00ff00"/>
<rect x="817" y="118" width="1" height="25" fill="#00ff00"/>
<rect x="816" y="120" width="3" height="17" fill="#00ff00"/>
<rect x="821" y="135" width="1" height="8" fill="#00ff00"/>
<rect x="820" y="135" width="3" height="8" fill="#00ff00"/>
<rect x="825" y="109" width="1" height="18" fill="#ff0000"/>
<rect x="824" y="118" width="3" height="6" fill="#ff0000"/>
<rect x="829" y="93" width="1" height="38" fill="#ff0000"/>
<rect x="828" y="94" width="3" height="26" fill="#ff0000"/>
<rect x="833" y="81" width="1" height="43" fill="#00ff00"/>
<rect x="832" y="96" width="3" height="13" fill="#00ff00"/>
<rect x="837" y="81" width="1" height="70" fill="#00ff00"/>
<rect x="836" y="108" width="3" height="39" fill="#00ff00"/>
<rect x="841" y="132" width="1" height="41" fill="#00ff00"/>
<rect x="840" y="146" width="3" height="22" fill="#00ff00"/>
<rect x="845" y="159" width="1" height="18" fill="#00ff00"/>
<rect x="844" y="167" width="3" height="8" fill="#00ff00"/>
<rect x="849" y="156" width="1" height="43" fill="#00ff00"/>
<rect x="848" y="173" width="3" height="8" fill="#00ff00"/>
<rect x="853" y="161" width="1" height="26" fill="#ff0000"/>
<rect x="852" y="166" width="3" height="15" fill="#ff0000"/>
<rect x="857" y="136" width="1" height="34" fill="#ff0000"/>
<rect x="856" y="151" width="3" height="16" fill="#ff0000"/>
<rect x="861" y="142" width="1" height="40" fill="#00ff00"/>
<rect x="860" y="151" width="3" height="18" fill="#00ff00"/>
<rect x="865" y="162" width="1" height="14" fill="#00ff00"/>
<rect x="864" y="167" width="3" height="4" fill="#00ff00"/>
<rect x="869" y="163" width="1" height="14" fill="#00ff00"/>
<rect x="868" y="170" width="3" height="6" fill="#00ff00"/>
<rect x="873" y="175" width="1" height="12" fill="#00ff00"/>
<rect x="872" y="176" width="3" height="3" fill="#00ff00"/>
<rect x="877" y="166" width="1" height="20" fill="#ff0000"/>
<rect x="876" y="175" width="3" height="5" fill="#ff0000"/>
<rect x="881" y="164" width="1" height="23" fill="#00ff00"/>
<rect x="880" y="175" width="3" height="11" fill="#00ff00"/>
<rect x="885" y="176" width="1" height="21" fill="#ff0000"/>
<rect x="884" y="180" width="3" height="6" fill="#ff0000"/>
<rect x="889" y="175" width="1" height="22" fill="#00ff00"/>
<rect x="888" y="179" width="3" height="14" fill="#00ff00"/>
<rect x="893" y="188" width="1" height="11" fill="#00ff00"/>
<rect x="892" y="190" width="3" height="8" fill="#00ff00"/>
<rect x="897" y="183" width="1" height="18" fill="#ff0000"/>
<rect x="896" y="188" width="3" height="13" fill="#ff0000"/>
<rect x="901" y="182" width="1" height="15" fill="#ff0000"/>
<rect x="900" y="185" width="3" height="3" fill="#ff0000"/>
<rect x="905" y="179" width="1" height="19" fill="#00ff00"/>
<rect x="904" y="185" width="3" height="7" fill="#00ff00"/>
<rect x="909" y="184" width="1" height="37" fill="#00ff00"/>
<rect x="908" y="193" width="3" height="13" fill="#00ff00"/>
<rect x="913" y="197" width="1" height="16" fill="#00ff00"/>
<rect x="912" y="204" width="3" height="9" fill="#00ff00"/>
<rect x="917" y="206" width="1" height="7" fill="#ff0000"/>
<rect x="916" y="207" width="3" height="6" fill="#ff0000"/>
<rect x="921" y="210" width="1" height="17" fill="#00ff00"/>
<rect x="920" y="212" width="3" height="10" fill="#00ff00"/>
<rect x="925" y="214" width="1" height="48" fill="#00ff00"/>
<rect x="924" y="220" width="3" height="28" fill="#00ff00"/>
<rect x="929" y="242" width="1" height="20" fill="#00ff00"/>
<rect x="928" y="247" width="3" height="5" fill="#00ff00"/>
<rect x="933" y="229" width="1" height="55" fill="#00ff00"/>
<rect x="932" y="250" width="3" height="24" fill="#00ff00"/>
<rect x="937" y="245" width="1" height="52" fill="#ff0000"/>
<rect x="936" y="255" width="3" height="19" fill="#ff0000"/>
<rect x="941" y="252" width="1" height="9" fill="#00ff00"/>
<rect x="940" y="253" width="3" height="6" fill="#00ff00"/>
<rect x="945" y="236" width="1" height="25" fill="#ff0000"/>
<rect x="944" y="237" width="3" height="24" fill="#ff0000"/>
<rect x="949" y="235" width="1" height="22" fill="#ff0000"/>
<rect x="948" y="237" width="3" height="15" fill="#ff0000"/>
<rect x="953" y="218" width="1" height="20" fill="#ff0000"/>
<rect x="952" y="223" width="3" height="15" fill="#ff0000"/>
<rect x="957" y="211" width="1" height="23" fill="#ff0000"/>
<rect x="956" y="222" width="3" height="3" fill="#ff0000"/>
<rect x="961" y="219" width="1" height="30" fill="#00ff00"/>
<rect x="960" y="222" width="3" height="25" fill="#00ff00"/>
<rect x="965" y="240" width="1" height="7" fill="#ff0000"/>
<rect x="964" y="245" width="3" height="2" fill="#ff0000"/>
<rect x="969" y="216" width="1" height="24" fill="#ff0000"/>
<rect x="968" y="222" width="3" height="18" fill="#ff0000"/>
<rect x="973" y="216" width="1" height="13" fill="#ff0000"/>
<rect x="972" y="218" width="3" height="5" fill="#ff0000"/>
<rect x="977" y="205" width="1" height="24" fill="#ff0000"/>
<rect x="976" y="212" width="3" height="8" fill="#ff0000"/>
<rect x="981" y="195" width="1" height="26" fill="#00ff00"/>
<rect x="980" y="211" width="3" height="6" fill="#00ff00"/>
<rect x="985" y="200" width="1" height="27" fill="#ff0000"/>
<rect x="984" y="202" width="3" height="14" fill="#ff0000"/>
<rect x="989" y="201" width="1" height="6" fill="#00ff00"/>
<rect x="988" y="202" width="3" height="5" fill="#00ff00"/>
<rect x="993" y="205" width="1" height="18" fill="#00ff00"/>
<rect x="992" y="205" width="3" height="13" fill="#00ff00"/>
<rect x="997" y="206" width="1" height="27" fill="#00ff00"/>
<rect x="996" y="217" width="3" height="14" fill="#00ff00"/>
<rect x="1001" y="223" width="1" height="19" fill="#00ff00"/>
<rect x="1000" y="229" width="3" height="2" fill="#00ff00"/>
<rect x="1005" y="214" width="1" height="24" fill="#ff0000"/>
<rect x="1004" y="217" width="3" height="14" fill="#ff0000"/>
<rect x="1009" y="212" width="1" height="17" fill="#00ff00"/>
<rect x="1008" y="216" width="3" height="5" fill="#00ff00"/>
<rect x="1013" y="215" width="1" height="7" fill="#ff0000"/>
<rect x="1012" y="216" width="3" height="4" fill="#ff0000"/>
<rect x="1017" y="203" width="1" height="20" fill="#ff0000"/>
<rect x="1016" y="205" width="3" height="16" fill="#ff0000"/>
<rect x="1021" y="162" width="1" height="51" fill="#ff0000"/>
<rect x="1020" y="173" width="3" height="34" fill="#ff0000"/>
<rect x="1025" y="167" width="1" height="35" fill="#00ff00"/>
<rect x="1024" y="172" width="3" height="30" fill="#00ff00"/>
<rect x="1029" y="190" width="1" height="21" fill="#00ff00"/>
<rect x="1028" y="200" width="3" height="8" fill="#00ff00"/>
<rect x="1033" y="200" width="1" height="24" fill="#00ff00"/>
<rect x="1032" y="206" width="3" height="12" fill="#00ff00"/>
<rect x="1037" y="215" width="1" height="13" fill="#00ff00"/>
<rect x="1036" y="216" width="3" height="10" fill="#00ff00"/>
<rect x="1041" y="207" width="1" height="16" fill="#ff0000"/>
<rect x="1040" y="212" width="3" height="10" fill="#ff0000"/>
<rect x="1045" y="208" width="1" height="13" fill="#00ff00"/>
<rect x="1044" y="214" width="3" height="6" fill="#00ff00"/>
<rect x="1049" y="208" width="1" height="18" fill="#ff0000"/>
<rect x="1048" y="216" width="3" height="5" fill="#ff0000"/>
<rect x="1053" y="208" width="1" height="81" fill="#00ff00"/>
<rect x="1052" y="216" width="3" height="56" fill="#00ff00"/>
<rect x="1057" y="230" width="1" height="98" fill="#ff0000"/>
<rect x="1056" y="233" width="3" height="39" fill="#ff0000"/>
<rect x="1061" y="224" width="1" height="22" fill="#00ff00"/>
<rect x="1060" y="235" width="3" height="11" fill="#00ff00"/>
<rect x="1065" y="241" width="1" height="23" fill="#00ff00"/>
<rect x="1064" y="247" width="3" height="13" fill="#00ff00"/>
<rect x="1069" y="242" width="1" height="19" fill="#ff0000"/>
<rect x="1068" y="256" width="3" height="4" fill="#ff0000"/>
<rect x="1073" y="241" width="1" height="19" fill="#ff0000"/>
<rect x="1072" y="249" width="3" height="10" fill="#ff0000"/>
<rect x="1077" y="242" width="1" height="18" fill="#ff0000"/>
<rect x="1076" y="249" width="3" height="2" fill="#ff0000"/>
<rect x="1081" y="237" width="1" height="18" fill="#00ff00"/>
<rect x="1080" y="247" width="3" height="4" fill="#00ff00"/>
<rect x="1085" y="245" width="1" height="6" fill="#ff0000"/>
<rect x="1084" y="246" width="3" height="5" fill="#ff0000"/>
<rect x="1089" y="235" width="1" height="16" fill="#ff0000"/>
<rect x="1088" y="240" width="3" height="6" fill="#ff0000"/>
<rect x="1093" y="236" width="1" height="10" fill="#00ff00"/>
<rect x="1092" y="240" width="3" height="5" fill="#00ff00"/>
<rect x="1097" y="243" width="1" height="7" fill="#00ff00"/>
<rect x="1096" y="244" width="3" height="5" fill="#00ff00"/>
<rect x="1101" y="249" width="1" height="15" fill="#00ff00"/>
<rect x="1100" y="256" width="3" height="4" fill="#00ff00"/>
<rect x="1105" y="250" width="1" height="11" fill="#ff0000"/>
<rect x="1104" y="255" width="3" height="5" fill="#ff0000"/>
<rect x="1109" y="254" width="1" height="6" fill="#00ff00"/>
<rect x="1108" y="254" width="3" height="5" fill="#00ff00"/>
<rect x="1113" y="255" width="1" height="20" fill="#00ff00"/>
<rect x="1112" y="258" width="3" height="15" fill="#00ff00"/>
<rect x="1117" y="268" width="1" height="24" fill="#00ff00"/>
<rect x="1116" y="270" width="3" height="16" fill="#00ff00"/>
<rect x="1121" y="282" width="1" height="12" fill="#00ff00"/>
<rect x="1120" y="284" width="3" height="9" fill="#00ff00"/>
<rect x="1125" y="279" width="1" height="14" fill="#00ff00"/>
<rect x="1124" y="284" width="3" height="8" fill="#00ff00"/>
<rect x="1129" y="274" width="1" height="19" fill="#ff0000"/>
<rect x="1128" y="286" width="3" height="4" fill="#ff0000"/>
<rect x="1133" y="285" width="1" height="3" fill="#ff0000"/>
<rect x="1132" y="286" width="3" height="1" fill="#ff0000"/>
<rect x="1137" y="272" width="1" height="14" fill="#ff0000"/>
<rect x="1136" y="278" width="3" height="7" fill="#ff0000"/>
<rect x="1141" y="276" width="1" height="45" fill="#00ff00"/>
<rect x="1140" y="278" width="3" height="29" fill="#00ff00"/>
<rect x="1145" y="284" width="1" height="32" fill="#ff0000"/>
<rect x="1144" y="305" width="3" height="2" fill="#ff0000"/>
<rect x="1149" y="304" width="1" height="29" fill="#00ff00"/>
<rect x="1148" y="304" width="3" height="19" fill="#00ff00"/>
<rect x="1153" y="314" width="1" height="25" fill="#00ff00"/>
<rect x="1152" y="321" width="3" height="16" fill="#00ff00"/>
<rect x="1157" y="333" width="1" height="7" fill="#00ff00"/>
<rect x="1156" y="334" width="3" height="5" fill="#00ff00"/>
<rect x="1161" y="334" width="1" height="30" fill="#00ff00"/>
<rect x="1160" y="335" width="3" height="28" fill="#00ff00"/>
<rect x="1165" y="358" width="1" height="26" fill="#00ff00"/>
<rect x="1164" y="361" width="3" height="4" fill="#00ff00"/>
<rect x="1169" y="343" width="1" height="28" fill="#ff0000"/>
<rect x="1168" y="358" width="3" height="11" fill="#ff0000"/>
<rect x="1173" y="354" width="1" height="23" fill="#00ff00"/>
<rect x="1172" y="358" width="3" height="18" fill="#00ff00"/>
<rect x="1177" y="368" width="1" height="24" fill="#00ff00"/>
<rect x="1176" y="372" width="3" height="14" fill="#00ff00"/>
<rect x="1181" y="382" width="1" height="6" fill="#ff0000"/>
<rect x="1180" y="383" width="3" height="3" fill="#ff0000"/>
<rect x="1185" y="379" width="1" height="26" fill="#ff0000"/>
<rect x="1184" y="380" width="3" height="2" fill="#ff0000"/>
<rect x="1189" y="336" width="1" height="51" fill="#ff0000"/>
<rect x="1188" y="342" width="3" height="40" fill="#ff0000"/>
<rect x="1193" y="330" width="1" height="24" fill="#ff0000"/>
<rect x="1192" y="337" width="3" height="7" fill="#ff0000"/>
<rect x="1197" y="309" width="1" height="33" fill="#ff0000"/>
<rect x="1196" y="310" width="3" height="28" fill="#ff0000"/>
<rect x="1201" y="306" width="1" height="23" fill="#00ff00"/>
<rect x="1200" y="310" width="3" height="8" fill="#00ff00"/>
<rect x="1205" y="314" width="1" height="9" fill="#ff0000"/>
<rect x="1204" y="315" width="3" height="4" fill="#ff0000"/>
<rect x="1209" y="259" width="1" height="41" fill="#ff0000"/>
<rect x="1208" y="263" width="3" height="28" fill="#ff0000"/>
<rect x="1213" y="260" width="1" height="23" fill="#00ff00"/>
<rect x="1212" y="262" width="3" height="16" fill="#00ff00"/>
<rect x="1217" y="273" width="1" height="24" fill="#00ff00"/>
<rect x="1216" y="276" width="3" height="7" fill="#00ff00"/>
<rect x="1221" y="245" width="1" height="42" fill="#ff0000"/>
<rect x="1220" y="248" width="3" height="35" fill="#ff0000"/>
<rect x="1225" y="245" width="1" height="34" fill="#ff0000"/>
<rect x="1224" y="247" width="3" height="2" fill="#ff0000"/>
<rect x="1229" y="242" width="1" height="12" fill="#00ff00"/>
<rect x="1228" y="246" width="3" height="6" fill="#00ff00"/>
<rect x="1233" y="226" width="1" height="39" fill="#ff0000"/>
<rect x="1232" y="232" width="3" height="26" fill="#ff0000"/>
<rect x="1237" y="225" width="1" height="37" fill="#00ff00"/>
<rect x="1236" y="232" width="3" height="28" fill="#00ff00"/>
<rect x="1241" y="238" width="1" height="49" fill="#00ff00"/>
<rect x="1240" y="258" width="3" height="20" fill="#00ff00"/>
<rect x="1245" y="268" width="1" height="25" fill="#ff0000"/>
<rect x="1244" y="272" width="3" height="7" fill="#ff0000"/>
<rect x="1249" y="239" width="1" height="39" fill="#ff0000"/>
<rect x="1248" y="246" width="3" height="28" fill="#ff0000"/>
<rect x="1253" y="238" width="1" height="9" fill="#ff0000"/>
<rect x="1252" y="240" width="3" height="6" fill="#ff0000"/>
<rect x="1257" y="238" width="1" height="34" fill="#00ff00"/>
<rect x="1256" y="239" width="3" height="22" fill="#00ff00"/>
<rect x="1261" y="257" width="1" height="30" fill="#00ff00"/>
<rect x="1260" y="259" width="3" height="23" fill="#00ff00"/>
<rect x="1265" y="272" width="1" height="19" fill="#ff0000"/>
<rect x="1264" y="276" width="3" height="6" fill="#ff0000"/>
<rect x="1269" y="257" width="1" height="24" fill="#ff0000"/>
<rect x="1268" y="266" width="3" height="11" fill="#ff0000"/>
<rect x="1273" y="253" width="1" height="17" fill="#ff0000"/>
<rect x="1272" y="254" width="3" height="15" fill="#ff0000"/>
<rect x="1277" y="252" width="1" height="5" fill="#00ff00"/>
<rect x="1276" y="253" width="3" height="3" fill="#00ff00"/>
<rect x="1281" y="260" width="1" height="17" fill="#00ff00"/>
<rect x="1280" y="264" width="3" height="3" fill="#00ff00"/>
<rect x="1285" y="237" width="1" height="30" fill="#ff0000"/>
<rect x="1284" y="248" width="3" height="19" fill="#ff0000"/>
<rect x="1289" y="231" width="1" height="25" fill="#ff0000"/>
<rect x="1288" y="241" width="3" height="8" fill="#ff0000"/>
<rect x="1293" y="206" width="1" height="40" fill="#ff0000"/>
<rect x="1292" y="206" width="3" height="38" fill="#ff0000"/>
<rect x="1297" y="191" width="1" height="24" fill="#00ff00"/>
<rect x="1296" y="206" width="3" height="5" fill="#00ff00"/>
<rect x="1301" y="209" width="1" height="6" fill="#00ff00"/>
<rect x="1300" y="210" width="3" height="3" fill="#00ff00"/>
<rect x="1305" y="192" width="1" height="11" fill="#00ff00"/>
<rect x="1304" y="193" width="3" height="6" fill="#00ff00"/>
</g>
<g clip-path="url(#clipMain)">
<polyline points="5.5,452.0 9.5,455.6 13.5,459.5 17.5,463.1 21.5,466.4 25.5,469.4 29.5,472.0 33.5,473.5 37.5,475.3 41.5,476.3 45.5,476.4 49.5,476.3 53.5,476.2 57.5,475.9 61.5,475.9 65.5,477.8 69.5,479.7 73.5,482.3 77.5,485.7 81.5,490.0 85.5,493.6 89.5,497.4 93.5,500.6 97.5,502.6 101.5,503.8 105.5,505.1 109.5,506.5 113.5,506.8 117.5,506.4 121.5,506.8 125.5,507.7 129.5,509.1 133.5,510.9 137.5,513.1 141.5,515.0 145.5,517.3 149.5,519.7 153.5,522.4 157.5,524.5 161.5,527.0 165.5,529.7 169.5,531.5 173.5,532.9 177.5,534.9 181.5,536.3 185.5,535.5 189.5,534.9 193.5,534.6 197.5,533.9 201.5,532.7 205.5,531.4 209.5,530.5 213.5,529.9 217.5,529.8 221.5,530.1 225.5,529.6 229.5,529.3 233.5,529.1 237.5,529.0 241.5,529.6 245.5,530.5 249.5,531.5 253.5,531.4 257.5,532.1 261.5,532.6 265.5,532.9 269.5,532.8 273.5,532.7 277.5,532.0 281.5,530.2 285.5,529.3 289.5,528.9 293.5,528.4 297.5,527.5 301.5,527.4 305.5,527.1 309.5,527.2 313.5,526.7 317.5,526.2 321.5,519.6 325.5,514.0 329.5,507.5 333.5,500.8 337.5,493.1 341.5,485.2 345.5,478.1 349.5,470.7 353.5,463.8 357.5,457.2 361.5,450.2 365.5,443.4 369.5,436.5 373.5,429.7 377.5,421.4 381.5,414.0 385.5,406.5 389.5,399.2 393.5,392.6 397.5,386.0 401.5,380.2 405.5,373.8 409.5,367.0 413.5,360.3 417.5,353.6 421.5,347.0 425.5,340.9 429.5,334.5 433.5,327.9 437.5,321.3 441.5,320.7 445.5,320.8 449.5,320.8 453.5,322.8 457.5,325.2 461.5,327.9 465.5,330.1 469.5,331.9 473.5,333.7 477.5,335.4 481.5,336.9 485.5,338.3 489.5,339.8 493.5,341.1 497.5,342.7 501.5,344.4 505.5,345.6 509.5,346.8 513.5,348.0 517.5,349.2 521.5,351.1 525.5,352.8 529.5,354.8 533.5,357.0 537.5,359.2 541.5,360.7 545.5,362.6 549.5,364.1 553.5,365.9 557.5,367.7 561.5,369.4 565.5,369.8 569.5,370.8 573.5,370.4 577.5,370.0 581.5,369.5 585.5,368.8 589.5,368.5 593.5,368.2 597.5,367.2 601.5,363.9 605.5,360.3 609.5,352.7 613.5,346.9 617.5,340.2 621.5,333.9 625.5,327.3 629.5,320.7 633.5,313.7 637.5,309.7 641.5,303.7 645.5,297.8 649.5,292.3 653.5,286.8 657.5,280.5 661.5,274.2 665.5,267.8 669.5,260.9 673.5,252.7 677.5,244.2 681.5,234.6 685.5,225.3 689.5,215.5 693.5,206.2 697.5,197.0 701.5,187.6 705.5,177.7 709.5,168.1 713.5,159.5 717.5,151.8 721.5,147.0 725.5,142.9 729.5,142.1 733.5,140.3 737.5,139.4 741.5,139.5 745.5,141.6 749.5,143.3 753.5,144.4 757.5,142.1 761.5,141.1 765.5,139.5 769.5,138.1 773.5,135.8 777.5,134.0 781.5,132.6 785.5,130.4 789.5,129.1 793.5,128.9 797.5,128.5 801.5,129.5 805.5,130.0 809.5,130.8 813.5,131.3 817.5,132.9 821.5,134.8 825.5,136.8 829.5,137.6 833.5,137.8 837.5,138.9 841.5,140.0 845.5,140.9 849.5,142.5 853.5,143.4 857.5,143.8 861.5,143.3 865.5,141.7 869.5,140.7 873.5,140.5 877.5,140.9 881.5,141.4 885.5,142.4 889.5,143.4 893.5,145.5 897.5,147.3 901.5,149.0 905.5,151.5 909.5,154.3 913.5,157.5 917.5,161.0 921.5,164.9 925.5,169.7 929.5,174.7 933.5,179.8 937.5,183.8 941.5,187.6 945.5,191.6 949.5,196.3 953.5,200.2 957.5,202.7 961.5,205.3 965.5,207.7 969.5,209.1 973.5,210.8 977.5,212.9 981.5,214.5 985.5,215.5 989.5,216.6 993.5,217.9 997.5,219.7 1001.5,221.2 1005.5,222.4 1009.5,223.4 1013.5,224.0 1017.5,224.6 1021.5,224.2 1025.5,224.5 1029.5,224.6 1033.5,224.8 1037.5,225.4 1041.5,225.1 1045.5,224.2 1049.5,223.0 1053.5,222.9 1057.5,222.2 1061.5,221.8 1065.5,222.5 1069.5,223.2 1073.5,224.0 1077.5,224.9 1081.5,225.0 1085.5,225.1 1089.5,225.7 1093.5,226.5 1097.5,227.7 1101.5,229.1 1105.5,230.9 1109.5,232.7 1113.5,234.5 1117.5,236.3 1121.5,238.4 1125.5,240.8 1129.5,243.0 1133.5,245.3 1137.5,247.8 1141.5,252.2 1145.5,255.7 1149.5,259.5 1153.5,263.5 1157.5,267.2 1161.5,272.2 1165.5,277.0 1169.5,281.8 1173.5,285.3 1177.5,290.3 1181.5,294.9 1185.5,298.9 1189.5,301.8 1193.5,304.8 1197.5,306.8 1201.5,309.0 1205.5,311.3 1209.5,312.1 1213.5,313.2 1217.5,314.4 1221.5,314.0 1225.5,313.7 1229.5,313.5 1233.5,312.1 1237.5,311.3 1241.5,310.8 1245.5,310.1 1249.5,308.8 1253.5,307.3 1257.5,306.7 1261.5,305.9 1265.5,304.9 1269.5,303.0 1273.5,300.3 1277.5,297.5 1281.5,294.3 1285.5,290.5 1289.5,286.5 1293.5,280.9 1297.5,275.1 1301.5,269.4 1305.5,263.4" fill="none" stroke="#0000cd" stroke-width="1" shape-rendering="crispEdges"/>
<polyline points="5.5,480.7 9.5,481.7 13.5,484.7 17.5,486.9 21.5,488.6 25.5,489.9 29.5,490.4 33.5,488.0 37.5,486.5 41.5,484.6 45.5,482.0 49.5,478.2 53.5,474.2 57.5,471.8 61.5,471.3 65.5,475.9 69.5,478.8 73.5,483.1 77.5,488.7 81.5,496.1 85.5,502.5 89.5,510.8 93.5,516.5 97.5,521.3 101.5,526.2 105.5,531.1 109.5,535.5 113.5,539.8 117.5,542.5 121.5,541.4 125.5,540.8 129.5,539.3 133.5,538.5 137.5,536.6 141.5,534.5 145.5,532.5 149.5,531.4 153.5,530.5 157.5,530.8 161.5,531.6 165.5,531.7 169.5,531.1 173.5,531.0 177.5,532.0 181.5,532.7 185.5,532.4 189.5,530.2 193.5,529.2 197.5,529.2 201.5,529.0 205.5,527.6 209.5,528.2 213.5,528.1 217.5,527.2 221.5,527.0 225.5,527.1 229.5,527.9 233.5,527.2 237.5,526.7 241.5,528.9 245.5,531.4 249.5,532.5 253.5,533.1 257.5,535.4 261.5,537.1 265.5,537.6 269.5,537.7 273.5,536.6 277.5,535.0 281.5,532.9 285.5,531.6 289.5,530.6 293.5,529.8 297.5,527.4 301.5,526.0 305.5,523.0 309.5,521.3 313.5,517.6 317.5,515.4 321.5,500.6 325.5,487.1 329.5,474.3 333.5,461.1 337.5,447.7 341.5,432.5 345.5,418.2 349.5,404.3 353.5,390.6 357.5,376.3 361.5,364.1 365.5,351.7 369.5,339.4 373.5,326.4 377.5,324.8 381.5,323.0 385.5,321.1 389.5,320.1 393.5,321.2 397.5,322.4 401.5,323.2 405.5,324.0 409.5,323.3 413.5,322.2 417.5,320.4 421.5,319.6 425.5,318.1 429.5,317.3 433.5,317.2 437.5,316.7 441.5,316.7 445.5,319.0 449.5,320.6 453.5,325.7 457.5,329.8 461.5,334.0 465.5,338.9 469.5,343.6 473.5,347.9 477.5,351.4 481.5,355.5 485.5,359.9 489.5,365.0 493.5,368.7 497.5,372.1 501.5,373.7 505.5,374.2 509.5,371.6 513.5,370.2 517.5,368.1 521.5,368.2 525.5,368.7 529.5,368.6 533.5,368.4 537.5,368.2 541.5,367.5 545.5,366.8 549.5,366.7 553.5,366.9 557.5,366.4 561.5,367.6 565.5,368.3 569.5,369.5 573.5,371.2 577.5,370.4 581.5,369.7 585.5,369.0 589.5,368.2 593.5,367.2 597.5,365.3 601.5,358.5 605.5,351.7 609.5,336.7 613.5,324.3 617.5,309.6 621.5,296.7 625.5,280.9 629.5,264.9 633.5,249.5 637.5,240.0 641.5,228.6 645.5,217.3 649.5,206.1 653.5,196.1 657.5,189.5 661.5,182.8 665.5,184.9 669.5,182.4 673.5,179.3 677.5,174.4 681.5,168.9 685.5,164.0 689.5,158.9 693.5,149.6 697.5,141.8 701.5,133.5 705.5,123.4 709.5,113.8 713.5,107.8 717.5,103.0 721.5,99.7 725.5,98.9 729.5,99.7 733.5,101.5 737.5,105.7 741.5,112.9 745.5,122.7 749.5,130.1 753.5,136.9 757.5,142.4 761.5,150.2 765.5,156.0 769.5,160.3 773.5,161.9 777.5,161.6 781.5,160.8 785.5,159.8 789.5,158.4 793.5,156.8 797.5,150.9 801.5,142.9 805.5,135.4 809.5,129.6 813.5,126.6 817.5,124.3 821.5,123.6 825.5,120.4 829.5,117.6 833.5,115.9 837.5,116.6 841.5,120.2 845.5,124.0 849.5,128.8 853.5,133.3 857.5,136.5 861.5,141.3 865.5,146.1 869.5,150.1 873.5,153.1 877.5,155.4 881.5,160.2 885.5,166.3 889.5,172.3 893.5,176.0 897.5,177.5 901.5,178.2 905.5,179.0 909.5,181.8 913.5,186.1 917.5,188.9 921.5,192.5 925.5,197.7 929.5,202.9 933.5,209.9 937.5,214.9 941.5,220.5 945.5,223.7 949.5,226.6 953.5,229.1 957.5,231.7 961.5,235.7 965.5,238.5 969.5,239.2 973.5,240.0 977.5,239.4 981.5,237.2 985.5,233.7 989.5,228.9 993.5,226.2 997.5,224.2 1001.5,223.7 1005.5,222.3 1009.5,222.1 1013.5,221.6 1017.5,218.7 1021.5,213.6 1025.5,212.1 1029.5,211.3 1033.5,211.7 1037.5,212.3 1041.5,213.0 1045.5,214.0 1049.5,213.9 1053.5,216.8 1057.5,217.0 1061.5,219.1 1065.5,221.8 1069.5,224.7 1073.5,227.8 1077.5,233.3 1081.5,236.7 1085.5,239.5 1089.5,241.1 1093.5,242.4 1097.5,245.0 1101.5,247.8 1105.5,250.7 1109.5,249.7 1113.5,252.5 1117.5,255.3 1121.5,257.7 1125.5,260.2 1129.5,262.8 1133.5,265.4 1137.5,267.4 1141.5,271.7 1145.5,276.4 1149.5,281.9 1153.5,288.2 1157.5,293.9 1161.5,301.5 1165.5,309.1 1169.5,315.3 1173.5,321.7 1177.5,328.3 1181.5,334.9 1185.5,341.7 1189.5,345.7 1193.5,349.9 1197.5,350.2 1201.5,351.0 1205.5,350.6 1209.5,345.4 1213.5,341.0 1217.5,335.3 1221.5,327.0 1225.5,319.0 1229.5,310.2 1233.5,299.2 1237.5,290.4 1241.5,283.1 1245.5,278.0 1249.5,271.5 1253.5,266.5 1257.5,262.5 1261.5,260.0 1265.5,260.9 1269.5,260.1 1273.5,258.1 1277.5,258.6 1281.5,260.0 1285.5,259.8 1289.5,260.5 1293.5,256.7 1297.5,251.9 1301.5,247.7 1305.5,244.3" fill="none" stroke="#ff0000" stroke-width="1" shape-rendering="crispEdges"/>
<polyline points="5.5,511.4 9.5,505.5 13.5,497.9 17.5,485.9 21.5,478.7 25.5,473.7 29.5,472.5 33.5,465.1 37.5,464.8 41.5,465.2 45.5,464.6 49.5,465.4 53.5,471.7 57.5,471.7 61.5,474.2 65.5,488.5 69.5,499.7 73.5,511.0 77.5,525.9 81.5,542.9 85.5,547.0 89.5,554.7 93.5,558.2 97.5,556.5 101.5,548.9 105.5,545.5 109.5,541.0 113.5,536.8 117.5,533.6 121.5,531.1 125.5,526.9 129.5,521.5 133.5,522.5 137.5,526.3 141.5,527.7 145.5,531.4 149.5,536.0 153.5,534.0 157.5,532.8 161.5,537.5 165.5,538.8 169.5,536.0 173.5,535.0 177.5,534.5 181.5,529.9 185.5,523.3 189.5,520.2 193.5,521.4 197.5,519.9 201.5,520.9 205.5,522.6 209.5,528.3 213.5,529.5 217.5,531.7 221.5,533.3 225.5,534.6 229.5,534.1 233.5,532.1 237.5,528.6 241.5,528.7 245.5,532.3 249.5,534.3 253.5,536.3 257.5,545.2 261.5,545.6 265.5,545.8 269.5,544.0 273.5,541.7 277.5,532.1 281.5,522.8 285.5,517.3 289.5,512.3 293.5,509.4 297.5,507.5 301.5,512.9 305.5,510.2 309.5,510.2 313.5,511.1 317.5,511.8 321.5,474.6 325.5,443.5 329.5,410.1 333.5,374.1 337.5,333.2 341.5,326.8 345.5,319.2 349.5,313.3 353.5,310.0 357.5,313.1 361.5,318.8 365.5,324.1 369.5,329.3 373.5,331.9 377.5,330.4 381.5,328.4 385.5,324.5 389.5,320.1 393.5,318.8 397.5,320.0 401.5,319.6 405.5,321.5 409.5,319.2 413.5,315.8 417.5,313.3 421.5,314.0 425.5,312.6 429.5,314.9 433.5,316.5 437.5,317.9 441.5,316.4 445.5,322.7 449.5,328.1 453.5,343.6 457.5,356.4 461.5,370.0 465.5,375.0 469.5,380.1 473.5,375.5 477.5,374.3 481.5,372.8 485.5,373.6 489.5,376.6 493.5,376.2 497.5,374.5 501.5,373.8 505.5,368.2 509.5,361.9 513.5,360.5 517.5,358.7 521.5,359.5 525.5,364.6 529.5,367.3 533.5,369.4 537.5,373.2 541.5,371.6 545.5,371.2 549.5,370.9 553.5,370.2 557.5,368.8 561.5,368.5 565.5,366.2 569.5,368.3 573.5,370.9 577.5,370.7 581.5,370.5 585.5,369.2 589.5,365.8 593.5,361.9 597.5,357.3 601.5,339.8 605.5,322.6 609.5,281.8 613.5,248.7 617.5,212.6 621.5,193.2 625.5,170.1 629.5,169.9 633.5,161.4 637.5,175.5 641.5,178.5 645.5,187.6 649.5,197.2 653.5,207.8 657.5,198.4 661.5,194.4 665.5,191.0 669.5,182.3 673.5,165.6 677.5,151.0 681.5,131.0 685.5,111.4 689.5,95.8 693.5,92.1 697.5,87.1 701.5,88.5 705.5,83.7 709.5,81.3 713.5,81.5 717.5,86.0 721.5,96.4 725.5,113.6 729.5,126.0 733.5,133.3 737.5,138.6 741.5,148.2 745.5,162.4 749.5,177.3 753.5,186.2 757.5,191.3 761.5,188.1 765.5,174.7 769.5,166.1 773.5,156.0 777.5,150.1 781.5,143.5 785.5,136.6 789.5,128.2 793.5,124.2 797.5,118.1 801.5,112.2 805.5,109.0 809.5,105.6 813.5,106.8 817.5,113.6 821.5,120.6 825.5,124.2 829.5,122.3 833.5,120.0 837.5,122.0 841.5,127.1 845.5,138.3 849.5,155.4 853.5,167.0 857.5,168.0 861.5,168.2 865.5,167.5 869.5,166.4 873.5,168.8 877.5,173.6 881.5,177.0 885.5,178.9 889.5,182.3 893.5,186.2 897.5,188.7 901.5,188.7 905.5,191.0 909.5,193.5 913.5,196.4 917.5,200.3 921.5,207.5 925.5,218.7 929.5,227.9 933.5,240.2 937.5,249.8 941.5,257.2 945.5,255.2 949.5,252.4 953.5,242.4 957.5,235.8 961.5,233.4 965.5,234.9 969.5,231.9 973.5,231.0 977.5,229.0 981.5,223.0 985.5,214.5 989.5,211.2 993.5,211.0 997.5,214.7 1001.5,217.4 1005.5,220.4 1009.5,223.3 1013.5,223.0 1017.5,218.0 1021.5,206.6 1025.5,203.5 1029.5,200.9 1033.5,201.2 1037.5,205.2 1041.5,212.9 1045.5,216.5 1049.5,218.3 1053.5,229.0 1057.5,230.6 1061.5,237.4 1065.5,245.2 1069.5,253.3 1073.5,248.8 1077.5,252.0 1081.5,252.9 1085.5,250.3 1089.5,247.1 1093.5,246.1 1097.5,245.9 1101.5,247.7 1105.5,249.5 1109.5,253.2 1113.5,258.8 1117.5,266.2 1121.5,272.9 1125.5,279.9 1129.5,285.5 1133.5,288.2 1137.5,286.8 1141.5,289.6 1145.5,292.5 1149.5,299.7 1153.5,309.8 1157.5,321.8 1161.5,332.9 1165.5,344.8 1169.5,352.1 1173.5,359.8 1177.5,369.3 1181.5,373.5 1185.5,376.6 1189.5,373.3 1193.5,365.8 1197.5,350.8 1201.5,337.6 1205.5,324.6 1209.5,308.8 1213.5,296.9 1217.5,291.4 1221.5,277.4 1225.5,263.8 1229.5,261.3 1233.5,252.3 1237.5,247.7 1241.5,253.6 1245.5,258.6 1249.5,257.6 1253.5,259.1 1257.5,259.4 1261.5,260.2 1265.5,260.9 1269.5,264.9 1273.5,267.8 1277.5,266.7 1281.5,263.7 1285.5,258.2 1289.5,253.3 1293.5,243.7 1297.5,234.7 1301.5,224.1 1305.5,214.0" fill="none" stroke="#ffa500" stroke-width="1" shape-rendering="crispEdges"/>
</g>
<g shape-rendering="crispEdges">
<rect x="5" y="44" width="1636" height="2" fill="#ff0000"/>
<rect x="1643" y="39" width="40" height="11" fill="#ff0000"/>
<rect x="5" y="146" width="1636" height="2" fill="#ff0000"/>
<rect x="1643" y="141" width="40" height="11" fill="#ff0000"/>
<rect x="5" y="246" width="1636" height="2" fill="#00ff00"/>
<rect x="1643" y="241" width="40" height="11" fill="#00ff00"/>
<rect x="5" y="364" width="1636" height="2" fill="#0000ff"/>
<rect x="1643" y="359" width="40" height="11" fill="#0000ff"/>
<rect x="5" y="485" width="1636" height="2" fill="#0000ff"/>
<rect x="1643" y="480" width="40" height="11" fill="#0000ff"/>
<rect x="1643" y="193" width="40" height="11" fill="#000000"/>
</g>
<text x="1646.6" y="48" font-size="9.8" fill="#ffffff" stroke="#ffffff" stroke-width="0.2" letter-spacing="-0.3" >7.20193</text>
<text x="1646.6" y="150" font-size="9.8" fill="#ffffff" stroke="#ffffff" stroke-width="0.2" letter-spacing="-0.3" >7.10011</text>
<text x="1646.6" y="250" font-size="9.8" fill="#ffffff" stroke="#ffffff" stroke-width="0.2" letter-spacing="-0.3" >7.00029</text>
<text x="1646.6" y="368" font-size="9.8" fill="#ffffff" stroke="#ffffff" stroke-width="0.2" letter-spacing="-0.3" >6.88250</text>
<text x="1646.6" y="489" font-size="9.8" fill="#ffffff" stroke="#ffffff" stroke-width="0.2" letter-spacing="-0.3" >6.76171</text>
<text x="1646.6" y="202" font-size="9.8" fill="#ffffff" stroke="#ffffff" stroke-width="0.2" letter-spacing="-0.3" >7.04955</text>
<polygon points="8,32 15,32 11.5,35.5" fill="#000"/>
<text x="20.2" y="37" font-size="9.8" fill="#000" stroke="#000" stroke-width="0.2" letter-spacing="0" textLength="66" lengthAdjust="spacing">USDCNH,Daily</text>
<text x="91.4" y="37" font-size="9.8" fill="#000" stroke="#000" stroke-width="0.2" letter-spacing="0" textLength="142.5" lengthAdjust="spacing">7.05400 7.05539 7.04543 7.04955</text>
<g shape-rendering="crispEdges">
<line x1="6" y1="626.5" x2="1641" y2="626.5" stroke="#b4b4b4" stroke-width="1" stroke-dasharray="3 3"/>
<line x1="6" y1="667.5" x2="1641" y2="667.5" stroke="#b4b4b4" stroke-width="1" stroke-dasharray="3 3"/>
</g>
<polyline points="5.5,657.9 9.5,649.9 13.5,653.8 17.5,650.5 21.5,648.7 25.5,647.2 29.5,646.8 33.5,640.3 37.5,649.8 41.5,649.3 45.5,646.0 49.5,648.2 53.5,651.6 57.5,649.2 61.5,653.3 65.5,665.6 69.5,661.8 73.5,664.0 77.5,666.3 81.5,670.1 85.5,664.2 89.5,665.8 93.5,661.7 97.5,656.5 101.5,653.8 105.5,655.5 109.5,656.3 113.5,652.8 117.5,649.5 121.5,648.0 125.5,647.2 129.5,646.1 133.5,654.2 137.5,655.8 141.5,649.2 145.5,652.3 149.5,652.9 153.5,648.6 157.5,651.9 161.5,656.3 165.5,653.0 169.5,645.5 173.5,645.1 177.5,649.6 181.5,646.7 185.5,640.5 189.5,639.9 193.5,648.1 197.5,647.3 201.5,649.4 205.5,643.9 209.5,650.7 213.5,649.9 217.5,651.0 221.5,651.9 225.5,645.2 229.5,649.1 233.5,645.2 237.5,643.4 241.5,651.3 245.5,652.2 249.5,652.9 253.5,648.2 257.5,658.6 261.5,649.4 265.5,650.0 269.5,646.9 273.5,642.4 277.5,640.7 281.5,634.3 285.5,642.2 289.5,640.6 293.5,639.9 297.5,639.7 301.5,645.7 305.5,639.2 309.5,642.3 313.5,643.1 317.5,642.5 321.5,614.9 325.5,618.0 329.5,617.7 333.5,616.8 337.5,614.7 341.5,614.5 345.5,616.4 349.5,618.0 353.5,618.7 357.5,621.0 361.5,625.1 365.5,626.4 369.5,628.1 373.5,626.0 377.5,623.6 381.5,626.9 385.5,625.8 389.5,626.5 393.5,628.6 397.5,628.2 401.5,628.1 405.5,631.3 409.5,626.2 413.5,626.0 417.5,627.4 421.5,636.0 425.5,634.4 429.5,634.1 433.5,632.6 437.5,633.1 441.5,634.5 445.5,651.2 449.5,648.8 453.5,662.8 457.5,657.5 461.5,659.1 465.5,655.3 469.5,653.3 473.5,652.5 477.5,653.8 481.5,655.4 485.5,656.1 489.5,658.3 493.5,649.1 497.5,648.1 501.5,651.8 505.5,642.8 509.5,643.9 513.5,646.0 517.5,644.5 521.5,653.2 525.5,653.2 529.5,648.6 533.5,649.7 537.5,651.5 541.5,649.1 545.5,651.6 549.5,646.9 553.5,647.2 557.5,647.6 561.5,648.1 565.5,645.3 569.5,652.4 573.5,653.9 577.5,646.2 581.5,646.5 585.5,641.1 589.5,642.6 593.5,642.6 597.5,634.5 601.5,617.9 605.5,616.6 609.5,606.9 613.5,619.7 617.5,617.1 621.5,622.7 625.5,620.1 629.5,620.0 633.5,619.8 637.5,639.8 641.5,635.0 645.5,635.6 649.5,636.0 653.5,636.4 657.5,633.7 661.5,632.4 665.5,633.9 669.5,630.2 673.5,625.3 677.5,624.5 681.5,620.8 685.5,622.8 689.5,622.4 693.5,628.7 697.5,626.8 701.5,626.4 705.5,623.3 709.5,626.0 713.5,635.7 717.5,637.6 721.5,643.9 725.5,646.3 729.5,642.9 733.5,644.9 737.5,644.2 741.5,654.5 745.5,659.9 749.5,656.8 753.5,651.8 757.5,647.1 761.5,648.4 765.5,644.7 769.5,647.2 773.5,641.4 777.5,641.2 781.5,642.0 785.5,638.1 789.5,639.1 793.5,637.7 797.5,635.3 801.5,636.8 805.5,635.4 809.5,636.5 813.5,642.0 817.5,646.9 821.5,648.6 825.5,641.9 829.5,636.3 833.5,640.6 837.5,650.3 841.5,654.8 845.5,656.2 849.5,657.4 853.5,653.1 857.5,649.0 861.5,652.9 865.5,653.4 869.5,654.5 873.5,655.3 877.5,654.2 881.5,656.9 885.5,654.9 889.5,658.1 893.5,659.4 897.5,655.4 901.5,654.4 905.5,656.3 909.5,660.2 913.5,662.1 917.5,659.8 921.5,663.7 925.5,669.3 929.5,670.2 933.5,674.0 937.5,665.4 941.5,666.0 945.5,657.2 949.5,657.2 953.5,651.5 957.5,651.3 961.5,658.3 965.5,657.7 969.5,649.0 973.5,647.6 977.5,645.5 981.5,647.0 985.5,642.0 989.5,643.5 993.5,648.0 997.5,652.4 1001.5,652.2 1005.5,646.8 1009.5,648.1 1013.5,646.4 1017.5,642.1 1021.5,632.2 1025.5,643.1 1029.5,645.1 1033.5,648.5 1037.5,650.9 1041.5,646.2 1045.5,648.7 1049.5,647.5 1053.5,661.9 1057.5,650.2 1061.5,653.0 1065.5,655.8 1069.5,655.0 1073.5,652.7 1077.5,652.8 1081.5,653.0 1085.5,651.7 1089.5,649.3 1093.5,650.7 1097.5,652.1 1101.5,655.6 1105.5,654.1 1109.5,654.9 1113.5,659.5 1117.5,663.2 1121.5,665.0 1125.5,664.3 1129.5,661.3 1133.5,661.3 1137.5,656.8 1141.5,665.5 1145.5,665.0 1149.5,669.1 1153.5,672.1 1157.5,672.5 1161.5,676.7 1165.5,677.1 1169.5,673.4 1173.5,676.3 1177.5,677.9 1181.5,676.7 1185.5,674.5 1189.5,655.1 1193.5,653.1 1197.5,643.5 1201.5,646.0 1205.5,645.3 1209.5,631.8 1213.5,636.7 1217.5,638.2 1221.5,631.0 1225.5,630.9 1229.5,632.3 1233.5,628.6 1237.5,638.0 1241.5,643.1 1245.5,642.0 1249.5,636.0 1253.5,634.8 1257.5,641.2 1261.5,646.6 1265.5,645.3 1269.5,642.8 1273.5,639.9 1277.5,640.3 1281.5,643.7 1285.5,639.0 1289.5,637.3 1293.5,629.9 1297.5,631.5 1301.5,632.3 1305.5,629.3" fill="none" stroke="#1e90ff" stroke-width="1" shape-rendering="crispEdges"/>
<text x="9" y="607" font-size="9.8" fill="#000" stroke="#000" stroke-width="0.2" letter-spacing="-0.3" >RSI(14) 67.2735</text>
<text x="1643.8" y="605" font-size="9.8" fill="#000" stroke="#000" stroke-width="0.2" letter-spacing="-0.3" >100</text>
<text x="1643.8" y="630" font-size="9.8" fill="#000" stroke="#000" stroke-width="0.2" letter-spacing="-0.3" >70</text>
<text x="1643.8" y="671" font-size="9.8" fill="#000" stroke="#000" stroke-width="0.2" letter-spacing="-0.3" >30</text>
<text x="1643.8" y="696" font-size="9.8" fill="#000" stroke="#000" stroke-width="0.2" letter-spacing="-0.3" >0</text>
<g shape-rendering="crispEdges" fill="#c0c0c0">
<rect x="5" y="764" width="1" height="29"/>
<rect x="9" y="764" width="1" height="25"/>
<rect x="13" y="764" width="1" height="23"/>
<rect x="17" y="764" width="1" height="20"/>
<rect x="21" y="764" width="1" height="18"/>
<rect x="25" y="764" width="1" height="15"/>
<rect x="29" y="764" width="1" height="13"/>
<rect x="33" y="764" width="1" height="10"/>
<rect x="37" y="764" width="1" height="9"/>
<rect x="41" y="764" width="1" height="8"/>
<rect x="45" y="764" width="1" height="7"/>
<rect x="49" y="764" width="1" height="6"/>
<rect x="53" y="764" width="1" height="6"/>
<rect x="57" y="764" width="1" height="6"/>
<rect x="61" y="764" width="1" height="7"/>
<rect x="65" y="764" width="1" height="11"/>
<rect x="69" y="764" width="1" height="13"/>
<rect x="73" y="764" width="1" height="16"/>
<rect x="77" y="764" width="1" height="19"/>
<rect x="81" y="764" width="1" height="23"/>
<rect x="85" y="764" width="1" height="24"/>
<rect x="89" y="764" width="1" height="26"/>
<rect x="93" y="764" width="1" height="26"/>
<rect x="97" y="764" width="1" height="25"/>
<rect x="101" y="764" width="1" height="23"/>
<rect x="105" y="764" width="1" height="22"/>
<rect x="109" y="764" width="1" height="21"/>
<rect x="113" y="764" width="1" height="19"/>
<rect x="117" y="764" width="1" height="17"/>
<rect x="121" y="764" width="1" height="15"/>
<rect x="125" y="764" width="1" height="13"/>
<rect x="129" y="764" width="1" height="11"/>
<rect x="133" y="764" width="1" height="11"/>
<rect x="137" y="764" width="1" height="11"/>
<rect x="141" y="764" width="1" height="10"/>
<rect x="145" y="764" width="1" height="10"/>
<rect x="149" y="764" width="1" height="10"/>
<rect x="153" y="764" width="1" height="9"/>
<rect x="157" y="764" width="1" height="9"/>
<rect x="161" y="764" width="1" height="9"/>
<rect x="165" y="764" width="1" height="9"/>
<rect x="169" y="764" width="1" height="8"/>
<rect x="173" y="764" width="1" height="6"/>
<rect x="177" y="764" width="1" height="6"/>
<rect x="181" y="764" width="1" height="5"/>
<rect x="185" y="764" width="1" height="3"/>
<rect x="189" y="764" width="1" height="1"/>
<rect x="193" y="764" width="1" height="2"/>
<rect x="197" y="764" width="1" height="2"/>
<rect x="201" y="764" width="1" height="2"/>
<rect x="205" y="764" width="1" height="1"/>
<rect x="209" y="764" width="1" height="2"/>
<rect x="213" y="764" width="1" height="3"/>
<rect x="217" y="764" width="1" height="3"/>
<rect x="221" y="764" width="1" height="4"/>
<rect x="225" y="764" width="1" height="3"/>
<rect x="229" y="764" width="1" height="3"/>
<rect x="233" y="764" width="1" height="3"/>
<rect x="237" y="764" width="1" height="2"/>
<rect x="241" y="764" width="1" height="3"/>
<rect x="245" y="764" width="1" height="3"/>
<rect x="249" y="764" width="1" height="4"/>
<rect x="253" y="764" width="1" height="4"/>
<rect x="257" y="764" width="1" height="6"/>
<rect x="261" y="764" width="1" height="6"/>
<rect x="265" y="764" width="1" height="6"/>
<rect x="269" y="764" width="1" height="5"/>
<rect x="273" y="764" width="1" height="4"/>
<rect x="277" y="764" width="1" height="2"/>
<rect x="281" y="762" width="1" height="3"/>
<rect x="285" y="761" width="1" height="4"/>
<rect x="289" y="760" width="1" height="5"/>
<rect x="293" y="759" width="1" height="6"/>
<rect x="297" y="758" width="1" height="7"/>
<rect x="301" y="759" width="1" height="6"/>
<rect x="305" y="758" width="1" height="7"/>
<rect x="309" y="758" width="1" height="7"/>
<rect x="313" y="758" width="1" height="7"/>
<rect x="317" y="758" width="1" height="7"/>
<rect x="321" y="745" width="1" height="20"/>
<rect x="325" y="735" width="1" height="30"/>
<rect x="329" y="728" width="1" height="37"/>
<rect x="333" y="722" width="1" height="43"/>
<rect x="337" y="715" width="1" height="50"/>
<rect x="341" y="710" width="1" height="55"/>
<rect x="345" y="708" width="1" height="57"/>
<rect x="349" y="707" width="1" height="58"/>
<rect x="353" y="707" width="1" height="58"/>
<rect x="357" y="708" width="1" height="57"/>
<rect x="361" y="710" width="1" height="55"/>
<rect x="365" y="713" width="1" height="52"/>
<rect x="369" y="716" width="1" height="49"/>
<rect x="373" y="718" width="1" height="47"/>
<rect x="377" y="719" width="1" height="46"/>
<rect x="381" y="721" width="1" height="44"/>
<rect x="385" y="722" width="1" height="43"/>
<rect x="389" y="724" width="1" height="41"/>
<rect x="393" y="726" width="1" height="39"/>
<rect x="397" y="728" width="1" height="37"/>
<rect x="401" y="730" width="1" height="35"/>
<rect x="405" y="733" width="1" height="32"/>
<rect x="409" y="733" width="1" height="32"/>
<rect x="413" y="734" width="1" height="31"/>
<rect x="417" y="735" width="1" height="30"/>
<rect x="421" y="738" width="1" height="27"/>
<rect x="425" y="740" width="1" height="25"/>
<rect x="429" y="741" width="1" height="24"/>
<rect x="433" y="742" width="1" height="23"/>
<rect x="437" y="744" width="1" height="21"/>
<rect x="441" y="745" width="1" height="20"/>
<rect x="445" y="749" width="1" height="16"/>
<rect x="449" y="752" width="1" height="13"/>
<rect x="453" y="758" width="1" height="7"/>
<rect x="457" y="762" width="1" height="3"/>
<rect x="461" y="764" width="1" height="2"/>
<rect x="465" y="764" width="1" height="4"/>
<rect x="469" y="764" width="1" height="5"/>
<rect x="473" y="764" width="1" height="6"/>
<rect x="477" y="764" width="1" height="7"/>
<rect x="481" y="764" width="1" height="7"/>
<rect x="485" y="764" width="1" height="8"/>
<rect x="489" y="764" width="1" height="9"/>
<rect x="493" y="764" width="1" height="9"/>
<rect x="497" y="764" width="1" height="8"/>
<rect x="501" y="764" width="1" height="8"/>
<rect x="505" y="764" width="1" height="6"/>
<rect x="509" y="764" width="1" height="5"/>
<rect x="513" y="764" width="1" height="4"/>
<rect x="517" y="764" width="1" height="3"/>
<rect x="521" y="764" width="1" height="4"/>
<rect x="525" y="764" width="1" height="5"/>
<rect x="529" y="764" width="1" height="5"/>
<rect x="533" y="764" width="1" height="5"/>
<rect x="537" y="764" width="1" height="5"/>
<rect x="541" y="764" width="1" height="5"/>
<rect x="545" y="764" width="1" height="5"/>
<rect x="549" y="764" width="1" height="4"/>
<rect x="553" y="764" width="1" height="4"/>
<rect x="557" y="764" width="1" height="4"/>
<rect x="561" y="764" width="1" height="3"/>
<rect x="565" y="764" width="1" height="3"/>
<rect x="569" y="764" width="1" height="3"/>
<rect x="573" y="764" width="1" height="4"/>
<rect x="577" y="764" width="1" height="3"/>
<rect x="581" y="764" width="1" height="3"/>
<rect x="585" y="764" width="1" height="2"/>
<rect x="589" y="764" width="1" height="1"/>
<rect x="593" y="764" width="1" height="1"/>
<rect x="597" y="762" width="1" height="3"/>
<rect x="601" y="756" width="1" height="9"/>
<rect x="605" y="750" width="1" height="15"/>
<rect x="609" y="737" width="1" height="28"/>
<rect x="613" y="730" width="1" height="35"/>
<rect x="617" y="722" width="1" height="43"/>
<rect x="621" y="719" width="1" height="46"/>
<rect x="625" y="714" width="1" height="51"/>
<rect x="629" y="711" width="1" height="54"/>
<rect x="633" y="709" width="1" height="56"/>
<rect x="637" y="714" width="1" height="51"/>
<rect x="641" y="716" width="1" height="49"/>
<rect x="645" y="718" width="1" height="47"/>
<rect x="649" y="721" width="1" height="44"/>
<rect x="653" y="723" width="1" height="42"/>
<rect x="657" y="725" width="1" height="40"/>
<rect x="661" y="725" width="1" height="40"/>
<rect x="665" y="727" width="1" height="38"/>
<rect x="669" y="726" width="1" height="39"/>
<rect x="673" y="723" width="1" height="42"/>
<rect x="677" y="721" width="1" height="44"/>
<rect x="681" y="717" width="1" height="48"/>
<rect x="685" y="715" width="1" height="50"/>
<rect x="689" y="713" width="1" height="52"/>
<rect x="693" y="714" width="1" height="51"/>
<rect x="697" y="715" width="1" height="50"/>
<rect x="701" y="715" width="1" height="50"/>
<rect x="705" y="714" width="1" height="51"/>
<rect x="709" y="715" width="1" height="50"/>
<rect x="713" y="719" width="1" height="46"/>
<rect x="717" y="722" width="1" height="43"/>
<rect x="721" y="728" width="1" height="37"/>
<rect x="725" y="734" width="1" height="31"/>
<rect x="729" y="737" width="1" height="28"/>
<rect x="733" y="741" width="1" height="24"/>
<rect x="737" y="744" width="1" height="21"/>
<rect x="741" y="750" width="1" height="15"/>
<rect x="745" y="758" width="1" height="7"/>
<rect x="749" y="763" width="1" height="2"/>
<rect x="753" y="764" width="1" height="2"/>
<rect x="757" y="764" width="1" height="2"/>
<rect x="761" y="764" width="1" height="3"/>
<rect x="765" y="764" width="1" height="2"/>
<rect x="769" y="764" width="1" height="2"/>
<rect x="773" y="763" width="1" height="2"/>
<rect x="777" y="761" width="1" height="4"/>
<rect x="781" y="760" width="1" height="5"/>
<rect x="785" y="758" width="1" height="7"/>
<rect x="789" y="756" width="1" height="9"/>
<rect x="793" y="755" width="1" height="10"/>
<rect x="797" y="753" width="1" height="12"/>
<rect x="801" y="752" width="1" height="13"/>
<rect x="805" y="750" width="1" height="15"/>
<rect x="809" y="750" width="1" height="15"/>
<rect x="813" y="751" width="1" height="14"/>
<rect x="817" y="753" width="1" height="12"/>
<rect x="821" y="755" width="1" height="10"/>
<rect x="825" y="755" width="1" height="10"/>
<rect x="829" y="754" width="1" height="11"/>
<rect x="833" y="753" width="1" height="12"/>
<rect x="837" y="756" width="1" height="9"/>
<rect x="841" y="760" width="1" height="5"/>
<rect x="845" y="764" width="1" height="1"/>
<rect x="849" y="764" width="1" height="5"/>
<rect x="853" y="764" width="1" height="6"/>
<rect x="857" y="764" width="1" height="6"/>
<rect x="861" y="764" width="1" height="7"/>
<rect x="865" y="764" width="1" height="8"/>
<rect x="869" y="764" width="1" height="10"/>
<rect x="873" y="764" width="1" height="11"/>
<rect x="877" y="764" width="1" height="11"/>
<rect x="881" y="764" width="1" height="12"/>
<rect x="885" y="764" width="1" height="12"/>
<rect x="889" y="764" width="1" height="13"/>
<rect x="893" y="764" width="1" height="14"/>
<rect x="897" y="764" width="1" height="14"/>
<rect x="901" y="764" width="1" height="14"/>
<rect x="905" y="764" width="1" height="14"/>
<rect x="909" y="764" width="1" height="15"/>
<rect x="913" y="764" width="1" height="16"/>
<rect x="917" y="764" width="1" height="16"/>
<rect x="921" y="764" width="1" height="18"/>
<rect x="925" y="764" width="1" height="20"/>
<rect x="929" y="764" width="1" height="23"/>
<rect x="933" y="764" width="1" height="26"/>
<rect x="937" y="764" width="1" height="27"/>
<rect x="941" y="764" width="1" height="27"/>
<rect x="945" y="764" width="1" height="26"/>
<rect x="949" y="764" width="1" height="24"/>
<rect x="953" y="764" width="1" height="22"/>
<rect x="957" y="764" width="1" height="20"/>
<rect x="961" y="764" width="1" height="19"/>
<rect x="965" y="764" width="1" height="19"/>
<rect x="969" y="764" width="1" height="17"/>
<rect x="973" y="764" width="1" height="14"/>
<rect x="977" y="764" width="1" height="12"/>
<rect x="981" y="764" width="1" height="10"/>
<rect x="985" y="764" width="1" height="8"/>
<rect x="989" y="764" width="1" height="6"/>
<rect x="993" y="764" width="1" height="5"/>
<rect x="997" y="764" width="1" height="6"/>
<rect x="1001" y="764" width="1" height="6"/>
<rect x="1005" y="764" width="1" height="6"/>
<rect x="1009" y="764" width="1" height="5"/>
<rect x="1013" y="764" width="1" height="4"/>
<rect x="1017" y="764" width="1" height="3"/>
<rect x="1021" y="762" width="1" height="3"/>
<rect x="1025" y="762" width="1" height="3"/>
<rect x="1029" y="762" width="1" height="3"/>
<rect x="1033" y="762" width="1" height="3"/>
<rect x="1037" y="764" width="1" height="1"/>
<rect x="1041" y="764" width="1" height="1"/>
<rect x="1045" y="764" width="1" height="1"/>
<rect x="1049" y="764" width="1" height="1"/>
<rect x="1053" y="764" width="1" height="6"/>
<rect x="1057" y="764" width="1" height="6"/>
<rect x="1061" y="764" width="1" height="7"/>
<rect x="1065" y="764" width="1" height="9"/>
<rect x="1069" y="764" width="1" height="11"/>
<rect x="1073" y="764" width="1" height="11"/>
<rect x="1077" y="764" width="1" height="11"/>
<rect x="1081" y="764" width="1" height="11"/>
<rect x="1085" y="764" width="1" height="11"/>
<rect x="1089" y="764" width="1" height="10"/>
<rect x="1093" y="764" width="1" height="9"/>
<rect x="1097" y="764" width="1" height="9"/>
<rect x="1101" y="764" width="1" height="10"/>
<rect x="1105" y="764" width="1" height="10"/>
<rect x="1109" y="764" width="1" height="10"/>
<rect x="1113" y="764" width="1" height="11"/>
<rect x="1117" y="764" width="1" height="13"/>
<rect x="1121" y="764" width="1" height="15"/>
<rect x="1125" y="764" width="1" height="16"/>
<rect x="1129" y="764" width="1" height="16"/>
<rect x="1133" y="764" width="1" height="16"/>
<rect x="1137" y="764" width="1" height="16"/>
<rect x="1141" y="764" width="1" height="17"/>
<rect x="1145" y="764" width="1" height="18"/>
<rect x="1149" y="764" width="1" height="20"/>
<rect x="1153" y="764" width="1" height="22"/>
<rect x="1157" y="764" width="1" height="24"/>
<rect x="1161" y="764" width="1" height="27"/>
<rect x="1165" y="764" width="1" height="29"/>
<rect x="1169" y="764" width="1" height="30"/>
<rect x="1173" y="764" width="1" height="32"/>
<rect x="1177" y="764" width="1" height="34"/>
<rect x="1181" y="764" width="1" height="34"/>
<rect x="1185" y="764" width="1" height="34"/>
<rect x="1189" y="764" width="1" height="31"/>
<rect x="1193" y="764" width="1" height="28"/>
<rect x="1197" y="764" width="1" height="23"/>
<rect x="1201" y="764" width="1" height="19"/>
<rect x="1205" y="764" width="1" height="16"/>
<rect x="1209" y="764" width="1" height="9"/>
<rect x="1213" y="764" width="1" height="5"/>
<rect x="1217" y="764" width="1" height="2"/>
<rect x="1221" y="760" width="1" height="5"/>
<rect x="1225" y="756" width="1" height="9"/>
<rect x="1229" y="753" width="1" height="12"/>
<rect x="1233" y="750" width="1" height="15"/>
<rect x="1237" y="749" width="1" height="16"/>
<rect x="1241" y="750" width="1" height="15"/>
<rect x="1245" y="751" width="1" height="14"/>
<rect x="1249" y="750" width="1" height="15"/>
<rect x="1253" y="748" width="1" height="17"/>
<rect x="1257" y="749" width="1" height="16"/>
<rect x="1261" y="751" width="1" height="14"/>
<rect x="1265" y="753" width="1" height="12"/>
<rect x="1269" y="754" width="1" height="11"/>
<rect x="1273" y="753" width="1" height="12"/>
<rect x="1277" y="753" width="1" height="12"/>
<rect x="1281" y="754" width="1" height="11"/>
<rect x="1285" y="754" width="1" height="11"/>
<rect x="1289" y="753" width="1" height="12"/>
<rect x="1293" y="749" width="1" height="16"/>
<rect x="1297" y="747" width="1" height="18"/>
<rect x="1301" y="746" width="1" height="19"/>
<rect x="1305" y="744" width="1" height="21"/>
</g>
<polyline points="5.5,790.4 9.5,790.6 13.5,790.5 17.5,789.9 21.5,788.9 25.5,787.6 29.5,785.7 33.5,783.3 37.5,780.9 41.5,778.6 45.5,776.6 49.5,774.8 53.5,773.2 57.5,771.9 61.5,771.0 65.5,770.8 69.5,771.2 73.5,772.0 77.5,773.2 81.5,775.0 85.5,776.9 89.5,779.1 93.5,781.3 97.5,783.3 101.5,784.6 105.5,785.5 109.5,786.0 113.5,786.0 117.5,785.4 121.5,784.3 125.5,782.9 129.5,781.2 133.5,779.6 137.5,778.3 141.5,777.0 145.5,775.8 149.5,774.8 153.5,773.9 157.5,773.2 161.5,772.8 165.5,772.7 169.5,772.4 173.5,771.8 177.5,771.4 181.5,770.9 185.5,770.2 189.5,769.4 193.5,768.6 197.5,767.8 201.5,767.0 205.5,766.2 209.5,765.8 213.5,765.4 217.5,765.2 221.5,765.2 225.5,765.4 229.5,765.6 233.5,765.7 237.5,765.7 241.5,765.8 245.5,765.9 249.5,766.1 253.5,766.2 257.5,766.4 261.5,766.8 265.5,767.1 269.5,767.4 273.5,767.6 277.5,767.5 281.5,767.0 285.5,766.3 289.5,765.5 293.5,764.4 297.5,763.2 301.5,762.1 305.5,761.0 309.5,760.1 313.5,759.3 317.5,758.9 321.5,757.1 325.5,754.4 329.5,750.9 333.5,746.8 337.5,741.9 341.5,736.6 345.5,731.0 349.5,725.3 353.5,719.5 357.5,715.4 361.5,712.6 365.5,710.9 369.5,710.3 373.5,710.6 377.5,711.5 381.5,712.9 385.5,714.7 389.5,716.6 393.5,718.7 397.5,720.7 401.5,722.6 405.5,724.5 409.5,726.2 413.5,727.9 417.5,729.5 421.5,731.3 425.5,733.0 429.5,734.7 433.5,736.2 437.5,737.7 441.5,739.1 445.5,740.9 449.5,742.9 453.5,745.4 457.5,748.0 461.5,750.9 465.5,753.7 469.5,756.6 473.5,759.4 477.5,762.1 481.5,764.5 485.5,766.6 489.5,768.2 493.5,769.4 497.5,770.0 501.5,770.4 505.5,770.5 509.5,770.3 513.5,770.0 517.5,769.5 521.5,769.1 525.5,768.6 529.5,768.1 533.5,767.8 537.5,767.5 541.5,767.4 545.5,767.4 549.5,767.5 553.5,767.6 557.5,767.5 561.5,767.3 565.5,767.1 569.5,767.0 573.5,766.9 577.5,766.8 581.5,766.6 585.5,766.3 589.5,766.0 593.5,765.7 597.5,765.2 601.5,764.0 605.5,762.2 609.5,758.9 613.5,754.8 617.5,750.0 621.5,744.8 625.5,739.3 629.5,733.4 633.5,727.4 637.5,722.8 641.5,719.0 645.5,717.0 649.5,716.0 653.5,716.1 657.5,716.7 661.5,718.0 665.5,719.8 669.5,721.7 673.5,722.7 677.5,723.3 681.5,723.1 685.5,722.4 689.5,721.3 693.5,720.1 697.5,719.0 701.5,717.7 705.5,716.4 709.5,715.5 713.5,715.2 717.5,715.8 721.5,717.3 725.5,719.6 729.5,722.1 733.5,725.0 737.5,728.2 741.5,732.2 745.5,737.0 749.5,741.9 753.5,746.6 757.5,750.8 761.5,754.4 765.5,757.4 769.5,760.1 773.5,762.3 777.5,763.5 781.5,763.8 785.5,763.2 789.5,762.2 793.5,761.0 797.5,759.5 801.5,758.1 805.5,756.4 809.5,755.0 813.5,753.8 817.5,753.0 821.5,752.7 825.5,752.6 829.5,752.5 833.5,752.6 837.5,753.1 841.5,754.2 845.5,755.8 849.5,757.7 853.5,759.5 857.5,761.0 861.5,762.7 865.5,764.7 869.5,766.8 873.5,768.7 877.5,770.2 881.5,771.4 885.5,772.3 889.5,773.1 893.5,774.0 897.5,774.8 901.5,775.4 905.5,775.9 909.5,776.4 913.5,776.9 917.5,777.4 921.5,778.0 925.5,778.8 929.5,779.7 933.5,780.9 937.5,782.3 941.5,783.8 945.5,785.0 949.5,785.9 953.5,786.5 957.5,786.8 961.5,786.7 965.5,786.3 969.5,785.3 973.5,783.9 977.5,782.3 981.5,780.6 985.5,778.7 989.5,777.0 993.5,775.4 997.5,773.9 1001.5,772.5 1005.5,771.2 1009.5,770.2 1013.5,769.3 1017.5,768.5 1021.5,767.6 1025.5,766.7 1029.5,766.0 1033.5,765.2 1037.5,764.6 1041.5,764.0 1045.5,763.6 1049.5,763.2 1053.5,763.6 1057.5,764.3 1061.5,765.3 1065.5,766.5 1069.5,767.8 1073.5,768.9 1077.5,770.1 1081.5,771.2 1085.5,772.2 1089.5,772.7 1093.5,773.0 1097.5,773.2 1101.5,773.2 1105.5,773.1 1109.5,773.1 1113.5,773.1 1117.5,773.3 1121.5,773.8 1125.5,774.5 1129.5,775.3 1133.5,776.1 1137.5,776.7 1141.5,777.5 1145.5,778.4 1149.5,779.4 1153.5,780.4 1157.5,781.4 1161.5,782.6 1165.5,784.1 1169.5,785.6 1173.5,787.3 1177.5,789.2 1181.5,791.0 1185.5,792.6 1189.5,793.6 1193.5,794.0 1197.5,793.5 1201.5,792.4 1205.5,790.9 1209.5,788.4 1213.5,785.2 1217.5,781.6 1221.5,777.4 1225.5,773.1 1229.5,769.0 1233.5,764.9 1237.5,761.3 1241.5,758.1 1245.5,755.8 1249.5,753.8 1253.5,751.9 1257.5,750.7 1261.5,750.3 1265.5,750.2 1269.5,750.7 1273.5,751.1 1277.5,751.5 1281.5,751.8 1285.5,752.2 1289.5,752.7 1293.5,752.7 1297.5,752.2 1301.5,751.5 1305.5,750.4" fill="none" stroke="#ff0000" stroke-width="1" stroke-dasharray="3 3" shape-rendering="crispEdges"/>
<text x="9" y="713" font-size="9.8" fill="#000" stroke="#000" stroke-width="0.2" letter-spacing="-0.25" >MACD(12,26,9) 0.020177 0.013750</text>
<text x="1645" y="712" font-size="9.8" fill="#000" stroke="#000" stroke-width="0.2" letter-spacing="-0.3" >0.063113</text>
<text x="1645" y="768" font-size="9.8" fill="#000" stroke="#000" stroke-width="0.2" letter-spacing="-0.3" >0.00</text>
<text x="1644.6" y="801" font-size="9.8" fill="#000" stroke="#000" stroke-width="0.2" letter-spacing="-0.3" >-0.038872</text>
<text x="3.8" y="816" font-size="9.8" fill="#000" stroke="#000" stroke-width="0.2" letter-spacing="-0.45" word-spacing="1">2 Feb 2019</text>
<text x="67.8" y="816" font-size="9.8" fill="#000" stroke="#000" stroke-width="0.2" letter-spacing="-0.45" word-spacing="1">21 Feb 2019</text>
<text x="131.8" y="816" font-size="9.8" fill="#000" stroke="#000" stroke-width="0.2" letter-spacing="-0.45" word-spacing="1">12 Mar 2019</text>
<text x="195.8" y="816" font-size="9.8" fill="#000" stroke="#000" stroke-width="0.2" letter-spacing="-0.45" word-spacing="1">30 Mar 2019</text>
<text x="259.8" y="816" font-size="9.8" fill="#000" stroke="#000" stroke-width="0.2" letter-spacing="-0.45" word-spacing="1">18 Apr 2019</text>
<text x="323.8" y="816" font-size="9.8" fill="#000" stroke="#000" stroke-width="0.2" letter-spacing="-0.45" word-spacing="1">14 May 2019</text>
<text x="387.8" y="816" font-size="9.8" fill="#000" stroke="#000" stroke-width="0.2" letter-spacing="-0.45" word-spacing="1">1 Jun 2019</text>
<text x="451.8" y="816" font-size="9.8" fill="#000" stroke="#000" stroke-width="0.2" letter-spacing="-0.45" word-spacing="1">20 Jun 2019</text>
<text x="515.8" y="816" font-size="9.8" fill="#000" stroke="#000" stroke-width="0.2" letter-spacing="-0.45" word-spacing="1">9 Jul 2019</text>
<text x="579.8" y="816" font-size="9.8" fill="#000" stroke="#000" stroke-width="0.2" letter-spacing="-0.45" word-spacing="1">27 Jul 2019</text>
<text x="643.8" y="816" font-size="9.8" fill="#000" stroke="#000" stroke-width="0.2" letter-spacing="-0.45" word-spacing="1">15 Aug 2019</text>
<text x="707.8" y="816" font-size="9.8" fill="#000" stroke="#000" stroke-width="0.2" letter-spacing="-0.45" word-spacing="1">3 Sep 2019</text>
<text x="771.8" y="816" font-size="9.8" fill="#000" stroke="#000" stroke-width="0.2" letter-spacing="-0.45" word-spacing="1">21 Sep 2019</text>
<text x="835.8" y="816" font-size="9.8" fill="#000" stroke="#000" stroke-width="0.2" letter-spacing="-0.45" word-spacing="1">10 Oct 2019</text>
<text x="899.8" y="816" font-size="9.8" fill="#000" stroke="#000" stroke-width="0.2" letter-spacing="-0.45" word-spacing="1">29 Oct 2019</text>
<text x="963.8" y="816" font-size="9.8" fill="#000" stroke="#000" stroke-width="0.2" letter-spacing="-0.45" word-spacing="1">16 Nov 2019</text>
<text x="1027.8" y="816" font-size="9.8" fill="#000" stroke="#000" stroke-width="0.2" letter-spacing="-0.45" word-spacing="1">5 Dec 2019</text>
<text x="1091.8" y="816" font-size="9.8" fill="#000" stroke="#000" stroke-width="0.2" letter-spacing="-0.45" word-spacing="1">24 Dec 2019</text>
<text x="1155.8" y="816" font-size="9.8" fill="#000" stroke="#000" stroke-width="0.2" letter-spacing="-0.45" word-spacing="1">11 Jan 2020</text>
<text x="1219.8" y="816" font-size="9.8" fill="#000" stroke="#000" stroke-width="0.2" letter-spacing="-0.45" word-spacing="1">30 Jan 2020</text>
<text x="1283.8" y="816" font-size="9.8" fill="#000" stroke="#000" stroke-width="0.2" letter-spacing="-0.45" word-spacing="1">18 Feb 2020</text>
<g shape-rendering="crispEdges">
<rect x="419" y="826" width="103" height="19" fill="#ffffff"/>
<rect x="419" y="826" width="1" height="19" fill="#000"/><rect x="521" y="826" width="1" height="19" fill="#000"/><rect x="419" y="844" width="103" height="1" fill="#000"/>
<rect x="110" y="830" width="1" height="13" fill="#6d6d6d"/>
<rect x="210" y="830" width="1" height="13" fill="#6d6d6d"/>
<rect x="314" y="830" width="1" height="13" fill="#6d6d6d"/>
<rect x="626" y="830" width="1" height="13" fill="#6d6d6d"/>
<rect x="729" y="830" width="1" height="13" fill="#6d6d6d"/>
<rect x="822" y="830" width="1" height="13" fill="#6d6d6d"/>
</g>
<text x="17.7" y="841" font-size="12.3" fill="#6d6d6d" letter-spacing="-0.2" >EURUSD,Daily</text>
<text x="119.5" y="841" font-size="12.3" fill="#6d6d6d" letter-spacing="-0.2" >USDCHF,Daily</text>
<text x="220.2" y="841" font-size="12.3" fill="#6d6d6d" letter-spacing="-0.2" >AUDUSD,Daily</text>
<text x="324.59999999999997" y="841" font-size="12.3" fill="#6d6d6d" letter-spacing="-0.2" >USDCAD,Daily</text>
<text x="427.5" y="841" font-size="12.3" fill="#000000" letter-spacing="-0.2" >USDCNH,Daily</text>
<text x="533.2" y="841" font-size="12.3" fill="#6d6d6d" letter-spacing="-0.2" >EURUSD,Daily</text>
<text x="637.0" y="841" font-size="12.3" fill="#6d6d6d" letter-spacing="-0.2" >GBPUSD,Daily</text>
<text x="741.2" y="841" font-size="12.3" fill="#6d6d6d" letter-spacing="-0.2" >XAUUSD,H4</text>
<polygon points="1660,832 1660,838 1656.5,835" fill="#a0a0a0"/>
<polygon points="1676,832 1676,838 1679.5,835" fill="#a0a0a0"/>
<defs><pattern id="chk" x="0" y="0" width="2" height="2" patternUnits="userSpaceOnUse"><rect width="2" height="2" fill="#f0f0f0"/><rect width="1" height="1" fill="#ffffff"/><rect x="1" y="1" width="1" height="1" fill="#ffffff"/></pattern><clipPath id="clipMain"><rect x="5" y="26" width="1636" height="566"/></clipPath></defs>
</svg>
</body></html>
